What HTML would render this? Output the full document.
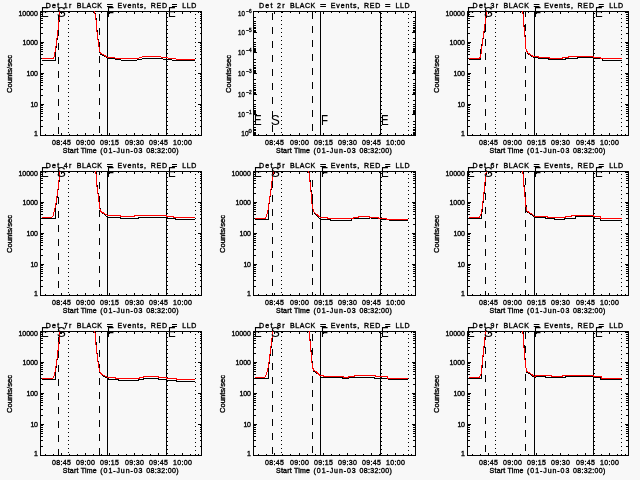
<!DOCTYPE html><html><head><meta charset="utf-8"><style>html,body{margin:0;padding:0;background:#f8f8f8;overflow:hidden}svg{display:block}.t{font-weight:normal;stroke:#000;stroke-width:0.35px}</style></head><body><svg width="640" height="480" viewBox="0 0 640 480" font-family='"Liberation Sans", sans-serif' shape-rendering="crispEdges">
<rect width="640" height="480" fill="#f8f8f8"/>
<clipPath id="c00"><rect x="40" y="11" width="162" height="125"/></clipPath>
<rect x="40" y="11" width="162" height="1" fill="#000"/>
<rect x="40" y="135" width="162" height="1" fill="#000"/>
<rect x="40" y="11" width="1" height="125" fill="#000"/>
<rect x="201" y="11" width="1" height="125" fill="#000"/>
<rect x="45" y="134" width="1" height="1" fill="#000"/>
<rect x="45" y="12" width="1" height="1" fill="#000"/>
<rect x="53" y="134" width="1" height="1" fill="#000"/>
<rect x="53" y="12" width="1" height="1" fill="#000"/>
<rect x="61" y="133" width="1" height="2" fill="#000"/>
<rect x="61" y="12" width="1" height="2" fill="#000"/>
<rect x="69" y="134" width="1" height="1" fill="#000"/>
<rect x="69" y="12" width="1" height="1" fill="#000"/>
<rect x="77" y="134" width="1" height="1" fill="#000"/>
<rect x="77" y="12" width="1" height="1" fill="#000"/>
<rect x="85" y="133" width="1" height="2" fill="#000"/>
<rect x="85" y="12" width="1" height="2" fill="#000"/>
<rect x="93" y="134" width="1" height="1" fill="#000"/>
<rect x="93" y="12" width="1" height="1" fill="#000"/>
<rect x="101" y="134" width="1" height="1" fill="#000"/>
<rect x="101" y="12" width="1" height="1" fill="#000"/>
<rect x="109" y="133" width="1" height="2" fill="#000"/>
<rect x="109" y="12" width="1" height="2" fill="#000"/>
<rect x="118" y="134" width="1" height="1" fill="#000"/>
<rect x="118" y="12" width="1" height="1" fill="#000"/>
<rect x="126" y="134" width="1" height="1" fill="#000"/>
<rect x="126" y="12" width="1" height="1" fill="#000"/>
<rect x="134" y="133" width="1" height="2" fill="#000"/>
<rect x="134" y="12" width="1" height="2" fill="#000"/>
<rect x="142" y="134" width="1" height="1" fill="#000"/>
<rect x="142" y="12" width="1" height="1" fill="#000"/>
<rect x="150" y="134" width="1" height="1" fill="#000"/>
<rect x="150" y="12" width="1" height="1" fill="#000"/>
<rect x="158" y="133" width="1" height="2" fill="#000"/>
<rect x="158" y="12" width="1" height="2" fill="#000"/>
<rect x="166" y="134" width="1" height="1" fill="#000"/>
<rect x="166" y="12" width="1" height="1" fill="#000"/>
<rect x="174" y="134" width="1" height="1" fill="#000"/>
<rect x="174" y="12" width="1" height="1" fill="#000"/>
<rect x="182" y="133" width="1" height="2" fill="#000"/>
<rect x="182" y="12" width="1" height="2" fill="#000"/>
<rect x="190" y="134" width="1" height="1" fill="#000"/>
<rect x="190" y="12" width="1" height="1" fill="#000"/>
<rect x="198" y="134" width="1" height="1" fill="#000"/>
<rect x="198" y="12" width="1" height="1" fill="#000"/>
<text class="t" x="61.5" y="145" font-size="7.0" text-anchor="middle" textLength="19" lengthAdjust="spacing" >08:45</text>
<text class="t" x="85.5" y="145" font-size="7.0" text-anchor="middle" textLength="19" lengthAdjust="spacing" >09:00</text>
<text class="t" x="109.5" y="145" font-size="7.0" text-anchor="middle" textLength="19" lengthAdjust="spacing" >09:15</text>
<text class="t" x="134.5" y="145" font-size="7.0" text-anchor="middle" textLength="19" lengthAdjust="spacing" >09:30</text>
<text class="t" x="158.5" y="145" font-size="7.0" text-anchor="middle" textLength="19" lengthAdjust="spacing" >09:45</text>
<text class="t" x="182.5" y="145" font-size="7.0" text-anchor="middle" textLength="19" lengthAdjust="spacing" >10:00</text>
<text class="t" x="62.800000000000004" y="153" font-size="7.0" text-anchor="start" textLength="33.8" lengthAdjust="spacing" >Start Time</text>
<text class="t" x="100.30000000000001" y="153" font-size="7.0" text-anchor="start" textLength="42.2" lengthAdjust="spacing" >(01-Jun-03</text>
<text class="t" x="146.3" y="153" font-size="7.0" text-anchor="start" textLength="32.3" lengthAdjust="spacing" >08:32:00)</text>
<text class="t" x="45.75" y="7.5" font-size="7.0" text-anchor="start" textLength="25.6" lengthAdjust="spacing" >Det 1r</text>
<text class="t" x="76.65" y="7.5" font-size="7.0" text-anchor="start" textLength="25.35" lengthAdjust="spacing" >BLACK</text>
<text class="t" x="106.65" y="7.5" font-size="7.0" text-anchor="start" textLength="6.2" lengthAdjust="spacingAndGlyphs" >=</text>
<text class="t" x="117.55" y="7.5" font-size="7.0" text-anchor="start" textLength="28.5" lengthAdjust="spacing" >Events,</text>
<text class="t" x="150.65" y="7.5" font-size="7.0" text-anchor="start" textLength="16.5" lengthAdjust="spacing" >RED</text>
<text class="t" x="171.75" y="7.5" font-size="7.0" text-anchor="start" textLength="5.5" lengthAdjust="spacingAndGlyphs" >=</text>
<text class="t" x="182.35000000000002" y="7.5" font-size="7.0" text-anchor="start" textLength="13.9" lengthAdjust="spacing" >LLD</text>
<text class="t" x="0" y="0" font-size="7.0" text-anchor="middle" textLength="38" lengthAdjust="spacingAndGlyphs" transform="translate(11.8,74.0) rotate(-90)">Counts/sec</text>
<text class="t" x="37.9" y="136" font-size="7.0" text-anchor="end" textLength="3.4" lengthAdjust="spacing" >1</text>
<rect x="41" y="126" width="2" height="1" fill="#000"/>
<rect x="200" y="126" width="1" height="1" fill="#000"/>
<rect x="41" y="120" width="2" height="1" fill="#000"/>
<rect x="200" y="120" width="1" height="1" fill="#000"/>
<rect x="41" y="116" width="2" height="1" fill="#000"/>
<rect x="200" y="116" width="1" height="1" fill="#000"/>
<rect x="41" y="113" width="2" height="1" fill="#000"/>
<rect x="200" y="113" width="1" height="1" fill="#000"/>
<rect x="41" y="111" width="2" height="1" fill="#000"/>
<rect x="200" y="111" width="1" height="1" fill="#000"/>
<rect x="41" y="109" width="2" height="1" fill="#000"/>
<rect x="200" y="109" width="1" height="1" fill="#000"/>
<rect x="41" y="107" width="2" height="1" fill="#000"/>
<rect x="200" y="107" width="1" height="1" fill="#000"/>
<rect x="41" y="105" width="2" height="1" fill="#000"/>
<rect x="200" y="105" width="1" height="1" fill="#000"/>
<text class="t" x="37.9" y="107" font-size="7.0" text-anchor="end" textLength="7.4" lengthAdjust="spacing" >10</text>
<rect x="41" y="104" width="3" height="1" fill="#000"/>
<rect x="198" y="104" width="3" height="1" fill="#000"/>
<rect x="41" y="95" width="2" height="1" fill="#000"/>
<rect x="200" y="95" width="1" height="1" fill="#000"/>
<rect x="41" y="89" width="2" height="1" fill="#000"/>
<rect x="200" y="89" width="1" height="1" fill="#000"/>
<rect x="41" y="85" width="2" height="1" fill="#000"/>
<rect x="200" y="85" width="1" height="1" fill="#000"/>
<rect x="41" y="82" width="2" height="1" fill="#000"/>
<rect x="200" y="82" width="1" height="1" fill="#000"/>
<rect x="41" y="80" width="2" height="1" fill="#000"/>
<rect x="200" y="80" width="1" height="1" fill="#000"/>
<rect x="41" y="78" width="2" height="1" fill="#000"/>
<rect x="200" y="78" width="1" height="1" fill="#000"/>
<rect x="41" y="76" width="2" height="1" fill="#000"/>
<rect x="200" y="76" width="1" height="1" fill="#000"/>
<rect x="41" y="74" width="2" height="1" fill="#000"/>
<rect x="200" y="74" width="1" height="1" fill="#000"/>
<text class="t" x="37.9" y="76" font-size="7.0" text-anchor="end" textLength="11.4" lengthAdjust="spacing" >100</text>
<rect x="41" y="73" width="3" height="1" fill="#000"/>
<rect x="198" y="73" width="3" height="1" fill="#000"/>
<rect x="41" y="64" width="2" height="1" fill="#000"/>
<rect x="200" y="64" width="1" height="1" fill="#000"/>
<rect x="41" y="58" width="2" height="1" fill="#000"/>
<rect x="200" y="58" width="1" height="1" fill="#000"/>
<rect x="41" y="54" width="2" height="1" fill="#000"/>
<rect x="200" y="54" width="1" height="1" fill="#000"/>
<rect x="41" y="51" width="2" height="1" fill="#000"/>
<rect x="200" y="51" width="1" height="1" fill="#000"/>
<rect x="41" y="49" width="2" height="1" fill="#000"/>
<rect x="200" y="49" width="1" height="1" fill="#000"/>
<rect x="41" y="47" width="2" height="1" fill="#000"/>
<rect x="200" y="47" width="1" height="1" fill="#000"/>
<rect x="41" y="45" width="2" height="1" fill="#000"/>
<rect x="200" y="45" width="1" height="1" fill="#000"/>
<rect x="41" y="43" width="2" height="1" fill="#000"/>
<rect x="200" y="43" width="1" height="1" fill="#000"/>
<text class="t" x="37.9" y="45" font-size="7.0" text-anchor="end" textLength="15.4" lengthAdjust="spacing" >1000</text>
<rect x="41" y="42" width="3" height="1" fill="#000"/>
<rect x="198" y="42" width="3" height="1" fill="#000"/>
<rect x="41" y="33" width="2" height="1" fill="#000"/>
<rect x="200" y="33" width="1" height="1" fill="#000"/>
<rect x="41" y="27" width="2" height="1" fill="#000"/>
<rect x="200" y="27" width="1" height="1" fill="#000"/>
<rect x="41" y="23" width="2" height="1" fill="#000"/>
<rect x="200" y="23" width="1" height="1" fill="#000"/>
<rect x="41" y="20" width="2" height="1" fill="#000"/>
<rect x="200" y="20" width="1" height="1" fill="#000"/>
<rect x="41" y="18" width="2" height="1" fill="#000"/>
<rect x="200" y="18" width="1" height="1" fill="#000"/>
<rect x="41" y="16" width="2" height="1" fill="#000"/>
<rect x="200" y="16" width="1" height="1" fill="#000"/>
<rect x="41" y="14" width="2" height="1" fill="#000"/>
<rect x="200" y="14" width="1" height="1" fill="#000"/>
<rect x="41" y="12" width="2" height="1" fill="#000"/>
<rect x="200" y="12" width="1" height="1" fill="#000"/>
<text class="t" x="37.9" y="16" font-size="7.0" text-anchor="end" textLength="19.4" lengthAdjust="spacing" >10000</text>
<path d="M58 15h1v7h-1zM58 29h1v7h-1zM58 43h1v7h-1zM58 57h1v7h-1zM58 71h1v7h-1zM58 85h1v7h-1zM58 99h1v7h-1zM58 113h1v7h-1zM58 127h1v7h-1zM68 12h1v1h-1zM68 16h1v1h-1zM68 20h1v1h-1zM68 24h1v1h-1zM68 28h1v1h-1zM68 32h1v1h-1zM68 36h1v1h-1zM68 40h1v1h-1zM68 44h1v1h-1zM68 48h1v1h-1zM68 52h1v1h-1zM68 56h1v1h-1zM68 60h1v1h-1zM68 64h1v1h-1zM68 68h1v1h-1zM68 72h1v1h-1zM68 76h1v1h-1zM68 80h1v1h-1zM68 84h1v1h-1zM68 88h1v1h-1zM68 92h1v1h-1zM68 96h1v1h-1zM68 100h1v1h-1zM68 104h1v1h-1zM68 108h1v1h-1zM68 112h1v1h-1zM68 116h1v1h-1zM68 120h1v1h-1zM68 124h1v1h-1zM68 128h1v1h-1zM68 132h1v1h-1zM99 14h1v7h-1zM99 28h1v7h-1zM99 42h1v7h-1zM99 56h1v7h-1zM99 70h1v7h-1zM99 84h1v7h-1zM99 98h1v7h-1zM99 112h1v7h-1zM99 126h1v7h-1zM107 12h1v123h-1zM166 12h1v123h-1zM167 13h1v1h-1zM167 17h1v1h-1zM167 21h1v1h-1zM167 25h1v1h-1zM167 29h1v1h-1zM167 33h1v1h-1zM167 37h1v1h-1zM167 41h1v1h-1zM167 45h1v1h-1zM167 49h1v1h-1zM167 53h1v1h-1zM167 57h1v1h-1zM167 61h1v1h-1zM167 65h1v1h-1zM167 69h1v1h-1zM167 73h1v1h-1zM167 77h1v1h-1zM167 81h1v1h-1zM167 85h1v1h-1zM167 89h1v1h-1zM167 93h1v1h-1zM167 97h1v1h-1zM167 101h1v1h-1zM167 105h1v1h-1zM167 109h1v1h-1zM167 113h1v1h-1zM167 117h1v1h-1zM167 121h1v1h-1zM167 125h1v1h-1zM167 129h1v1h-1zM167 133h1v1h-1zM195 14h1v1h-1zM195 18h1v1h-1zM195 22h1v1h-1zM195 26h1v1h-1zM195 30h1v1h-1zM195 34h1v1h-1zM195 38h1v1h-1zM195 42h1v1h-1zM195 46h1v1h-1zM195 50h1v1h-1zM195 54h1v1h-1zM195 58h1v1h-1zM195 62h1v1h-1zM195 66h1v1h-1zM195 70h1v1h-1zM195 74h1v1h-1zM195 78h1v1h-1zM195 82h1v1h-1zM195 86h1v1h-1zM195 90h1v1h-1zM195 94h1v1h-1zM195 98h1v1h-1zM195 102h1v1h-1zM195 106h1v1h-1zM195 110h1v1h-1zM195 114h1v1h-1zM195 118h1v1h-1zM195 122h1v1h-1zM195 126h1v1h-1zM195 130h1v1h-1zM195 134h1v1h-1z" fill="#000"/>
<g clip-path="url(#c00)">
<polyline points="41.50,60.50 54.80,60.50 55.30,60.50 55.30,52.50 56.60,43.50 58.40,28.30 60.10,12.00 60.99,3.50" fill="none" stroke="#000" stroke-width="1"/>
<polyline points="93.42,3.50 94.80,11.50 96.30,20.20 97.45,35.30 98.60,42.30 99.80,52.70 100.95,54.40 103.30,55.60 106.20,57.30 107.50,58.50 114.50,58.50 115.50,59.50 120.50,59.50 121.50,60.50 136.50,60.50 137.50,59.50 141.50,59.50 142.50,58.50 162.50,58.50 163.50,59.50 171.50,59.50 172.50,60.50 194.50,60.50" fill="none" stroke="#000" stroke-width="1"/>
<polyline points="41.50,58.50 53.50,58.50 54.70,54.00 56.40,43.50 58.20,28.30 59.90,12.00 60.79,3.50" fill="none" stroke="#f00" stroke-width="1"/>
<polyline points="93.22,3.50 94.60,11.50 96.10,20.20 97.25,35.30 98.40,42.30 99.60,51.70 100.75,53.40 103.10,54.60 106.00,56.30 107.50,57.50 114.50,57.50 115.50,58.50 138.50,58.50 139.50,57.50 141.50,57.50 142.50,56.50 160.50,56.50 161.50,57.50 167.50,57.50 168.50,58.50 175.50,58.50 176.50,59.50 194.50,59.50" fill="none" stroke="#f00" stroke-width="1"/>
</g>
<text transform="translate(42,17) scale(0.8,1)" x="-1.3" font-size="14.4">E</text>
<text transform="translate(58,17) scale(0.95,1)" x="-1.3" font-size="14.4">S</text>
<text transform="translate(108,17) scale(0.8,1)" x="-1.3" font-size="14.4">F</text>
<text transform="translate(169,17) scale(0.8,1)" x="-1.3" font-size="14.4">E</text>
<clipPath id="c10"><rect x="253" y="11" width="163" height="125"/></clipPath>
<rect x="253" y="11" width="163" height="1" fill="#000"/>
<rect x="253" y="135" width="163" height="1" fill="#000"/>
<rect x="253" y="11" width="1" height="125" fill="#000"/>
<rect x="415" y="11" width="1" height="125" fill="#000"/>
<rect x="258" y="134" width="1" height="1" fill="#000"/>
<rect x="258" y="12" width="1" height="1" fill="#000"/>
<rect x="266" y="134" width="1" height="1" fill="#000"/>
<rect x="266" y="12" width="1" height="1" fill="#000"/>
<rect x="274" y="133" width="1" height="2" fill="#000"/>
<rect x="274" y="12" width="1" height="2" fill="#000"/>
<rect x="282" y="134" width="1" height="1" fill="#000"/>
<rect x="282" y="12" width="1" height="1" fill="#000"/>
<rect x="290" y="134" width="1" height="1" fill="#000"/>
<rect x="290" y="12" width="1" height="1" fill="#000"/>
<rect x="299" y="133" width="1" height="2" fill="#000"/>
<rect x="299" y="12" width="1" height="2" fill="#000"/>
<rect x="307" y="134" width="1" height="1" fill="#000"/>
<rect x="307" y="12" width="1" height="1" fill="#000"/>
<rect x="315" y="134" width="1" height="1" fill="#000"/>
<rect x="315" y="12" width="1" height="1" fill="#000"/>
<rect x="323" y="133" width="1" height="2" fill="#000"/>
<rect x="323" y="12" width="1" height="2" fill="#000"/>
<rect x="331" y="134" width="1" height="1" fill="#000"/>
<rect x="331" y="12" width="1" height="1" fill="#000"/>
<rect x="339" y="134" width="1" height="1" fill="#000"/>
<rect x="339" y="12" width="1" height="1" fill="#000"/>
<rect x="347" y="133" width="1" height="2" fill="#000"/>
<rect x="347" y="12" width="1" height="2" fill="#000"/>
<rect x="355" y="134" width="1" height="1" fill="#000"/>
<rect x="355" y="12" width="1" height="1" fill="#000"/>
<rect x="363" y="134" width="1" height="1" fill="#000"/>
<rect x="363" y="12" width="1" height="1" fill="#000"/>
<rect x="371" y="133" width="1" height="2" fill="#000"/>
<rect x="371" y="12" width="1" height="2" fill="#000"/>
<rect x="379" y="134" width="1" height="1" fill="#000"/>
<rect x="379" y="12" width="1" height="1" fill="#000"/>
<rect x="387" y="134" width="1" height="1" fill="#000"/>
<rect x="387" y="12" width="1" height="1" fill="#000"/>
<rect x="395" y="133" width="1" height="2" fill="#000"/>
<rect x="395" y="12" width="1" height="2" fill="#000"/>
<rect x="403" y="134" width="1" height="1" fill="#000"/>
<rect x="403" y="12" width="1" height="1" fill="#000"/>
<rect x="411" y="134" width="1" height="1" fill="#000"/>
<rect x="411" y="12" width="1" height="1" fill="#000"/>
<text class="t" x="274.5" y="145" font-size="7.0" text-anchor="middle" textLength="19" lengthAdjust="spacing" >08:45</text>
<text class="t" x="299.5" y="145" font-size="7.0" text-anchor="middle" textLength="19" lengthAdjust="spacing" >09:00</text>
<text class="t" x="323.5" y="145" font-size="7.0" text-anchor="middle" textLength="19" lengthAdjust="spacing" >09:15</text>
<text class="t" x="347.5" y="145" font-size="7.0" text-anchor="middle" textLength="19" lengthAdjust="spacing" >09:30</text>
<text class="t" x="371.5" y="145" font-size="7.0" text-anchor="middle" textLength="19" lengthAdjust="spacing" >09:45</text>
<text class="t" x="395.5" y="145" font-size="7.0" text-anchor="middle" textLength="19" lengthAdjust="spacing" >10:00</text>
<text class="t" x="276.05" y="153" font-size="7.0" text-anchor="start" textLength="33.8" lengthAdjust="spacing" >Start Time</text>
<text class="t" x="313.55" y="153" font-size="7.0" text-anchor="start" textLength="42.2" lengthAdjust="spacing" >(01-Jun-03</text>
<text class="t" x="359.54999999999995" y="153" font-size="7.0" text-anchor="start" textLength="32.3" lengthAdjust="spacing" >08:32:00)</text>
<text class="t" x="259.0" y="7.5" font-size="7.0" text-anchor="start" textLength="25.6" lengthAdjust="spacing" >Det 2r</text>
<text class="t" x="289.9" y="7.5" font-size="7.0" text-anchor="start" textLength="25.35" lengthAdjust="spacing" >BLACK</text>
<text class="t" x="319.9" y="7.5" font-size="7.0" text-anchor="start" textLength="6.2" lengthAdjust="spacingAndGlyphs" >=</text>
<text class="t" x="330.79999999999995" y="7.5" font-size="7.0" text-anchor="start" textLength="28.5" lengthAdjust="spacing" >Events,</text>
<text class="t" x="363.9" y="7.5" font-size="7.0" text-anchor="start" textLength="16.5" lengthAdjust="spacing" >RED</text>
<text class="t" x="385.0" y="7.5" font-size="7.0" text-anchor="start" textLength="5.5" lengthAdjust="spacingAndGlyphs" >=</text>
<text class="t" x="395.6" y="7.5" font-size="7.0" text-anchor="start" textLength="13.9" lengthAdjust="spacing" >LLD</text>
<text class="t" x="0" y="0" font-size="7.0" text-anchor="middle" textLength="38" lengthAdjust="spacingAndGlyphs" transform="translate(231.1,74.0) rotate(-90)">Counts/sec</text>
<text class="t" x="244.9" y="16" font-size="7.0" text-anchor="end" textLength="6.8" lengthAdjust="spacingAndGlyphs" >10</text>
<text class="t" x="246.2" y="13" font-size="5" textLength="5.4" lengthAdjust="spacingAndGlyphs">&#8722;6</text>
<rect x="254" y="17" width="2" height="1" fill="#000"/>
<rect x="413" y="17" width="2" height="1" fill="#000"/>
<rect x="254" y="21" width="2" height="1" fill="#000"/>
<rect x="413" y="21" width="2" height="1" fill="#000"/>
<rect x="254" y="23" width="2" height="1" fill="#000"/>
<rect x="413" y="23" width="2" height="1" fill="#000"/>
<rect x="254" y="25" width="2" height="1" fill="#000"/>
<rect x="413" y="25" width="2" height="1" fill="#000"/>
<rect x="254" y="27" width="2" height="1" fill="#000"/>
<rect x="413" y="27" width="2" height="1" fill="#000"/>
<rect x="254" y="28" width="2" height="1" fill="#000"/>
<rect x="413" y="28" width="2" height="1" fill="#000"/>
<rect x="254" y="30" width="2" height="1" fill="#000"/>
<rect x="413" y="30" width="2" height="1" fill="#000"/>
<rect x="254" y="31" width="2" height="1" fill="#000"/>
<rect x="413" y="31" width="2" height="1" fill="#000"/>
<text class="t" x="244.9" y="35" font-size="7.0" text-anchor="end" textLength="6.8" lengthAdjust="spacingAndGlyphs" >10</text>
<text class="t" x="246.2" y="32" font-size="5" textLength="5.4" lengthAdjust="spacingAndGlyphs">&#8722;5</text>
<rect x="254" y="32" width="3" height="1" fill="#000"/>
<rect x="412" y="32" width="3" height="1" fill="#000"/>
<rect x="254" y="38" width="2" height="1" fill="#000"/>
<rect x="413" y="38" width="2" height="1" fill="#000"/>
<rect x="254" y="42" width="2" height="1" fill="#000"/>
<rect x="413" y="42" width="2" height="1" fill="#000"/>
<rect x="254" y="44" width="2" height="1" fill="#000"/>
<rect x="413" y="44" width="2" height="1" fill="#000"/>
<rect x="254" y="46" width="2" height="1" fill="#000"/>
<rect x="413" y="46" width="2" height="1" fill="#000"/>
<rect x="254" y="48" width="2" height="1" fill="#000"/>
<rect x="413" y="48" width="2" height="1" fill="#000"/>
<rect x="254" y="49" width="2" height="1" fill="#000"/>
<rect x="413" y="49" width="2" height="1" fill="#000"/>
<rect x="254" y="50" width="2" height="1" fill="#000"/>
<rect x="413" y="50" width="2" height="1" fill="#000"/>
<rect x="254" y="51" width="2" height="1" fill="#000"/>
<rect x="413" y="51" width="2" height="1" fill="#000"/>
<text class="t" x="244.9" y="55" font-size="7.0" text-anchor="end" textLength="6.8" lengthAdjust="spacingAndGlyphs" >10</text>
<text class="t" x="246.2" y="52" font-size="5" textLength="5.4" lengthAdjust="spacingAndGlyphs">&#8722;4</text>
<rect x="254" y="52" width="3" height="1" fill="#000"/>
<rect x="412" y="52" width="3" height="1" fill="#000"/>
<rect x="254" y="59" width="2" height="1" fill="#000"/>
<rect x="413" y="59" width="2" height="1" fill="#000"/>
<rect x="254" y="62" width="2" height="1" fill="#000"/>
<rect x="413" y="62" width="2" height="1" fill="#000"/>
<rect x="254" y="65" width="2" height="1" fill="#000"/>
<rect x="413" y="65" width="2" height="1" fill="#000"/>
<rect x="254" y="67" width="2" height="1" fill="#000"/>
<rect x="413" y="67" width="2" height="1" fill="#000"/>
<rect x="254" y="68" width="2" height="1" fill="#000"/>
<rect x="413" y="68" width="2" height="1" fill="#000"/>
<rect x="254" y="70" width="2" height="1" fill="#000"/>
<rect x="413" y="70" width="2" height="1" fill="#000"/>
<rect x="254" y="71" width="2" height="1" fill="#000"/>
<rect x="413" y="71" width="2" height="1" fill="#000"/>
<rect x="254" y="72" width="2" height="1" fill="#000"/>
<rect x="413" y="72" width="2" height="1" fill="#000"/>
<text class="t" x="244.9" y="76" font-size="7.0" text-anchor="end" textLength="6.8" lengthAdjust="spacingAndGlyphs" >10</text>
<text class="t" x="246.2" y="73" font-size="5" textLength="5.4" lengthAdjust="spacingAndGlyphs">&#8722;3</text>
<rect x="254" y="73" width="3" height="1" fill="#000"/>
<rect x="412" y="73" width="3" height="1" fill="#000"/>
<rect x="254" y="79" width="2" height="1" fill="#000"/>
<rect x="413" y="79" width="2" height="1" fill="#000"/>
<rect x="254" y="83" width="2" height="1" fill="#000"/>
<rect x="413" y="83" width="2" height="1" fill="#000"/>
<rect x="254" y="85" width="2" height="1" fill="#000"/>
<rect x="413" y="85" width="2" height="1" fill="#000"/>
<rect x="254" y="87" width="2" height="1" fill="#000"/>
<rect x="413" y="87" width="2" height="1" fill="#000"/>
<rect x="254" y="89" width="2" height="1" fill="#000"/>
<rect x="413" y="89" width="2" height="1" fill="#000"/>
<rect x="254" y="90" width="2" height="1" fill="#000"/>
<rect x="413" y="90" width="2" height="1" fill="#000"/>
<rect x="254" y="92" width="2" height="1" fill="#000"/>
<rect x="413" y="92" width="2" height="1" fill="#000"/>
<rect x="254" y="93" width="2" height="1" fill="#000"/>
<rect x="413" y="93" width="2" height="1" fill="#000"/>
<text class="t" x="244.9" y="97" font-size="7.0" text-anchor="end" textLength="6.8" lengthAdjust="spacingAndGlyphs" >10</text>
<text class="t" x="246.2" y="94" font-size="5" textLength="5.4" lengthAdjust="spacingAndGlyphs">&#8722;2</text>
<rect x="254" y="94" width="3" height="1" fill="#000"/>
<rect x="412" y="94" width="3" height="1" fill="#000"/>
<rect x="254" y="100" width="2" height="1" fill="#000"/>
<rect x="413" y="100" width="2" height="1" fill="#000"/>
<rect x="254" y="104" width="2" height="1" fill="#000"/>
<rect x="413" y="104" width="2" height="1" fill="#000"/>
<rect x="254" y="106" width="2" height="1" fill="#000"/>
<rect x="413" y="106" width="2" height="1" fill="#000"/>
<rect x="254" y="108" width="2" height="1" fill="#000"/>
<rect x="413" y="108" width="2" height="1" fill="#000"/>
<rect x="254" y="110" width="2" height="1" fill="#000"/>
<rect x="413" y="110" width="2" height="1" fill="#000"/>
<rect x="254" y="111" width="2" height="1" fill="#000"/>
<rect x="413" y="111" width="2" height="1" fill="#000"/>
<rect x="254" y="112" width="2" height="1" fill="#000"/>
<rect x="413" y="112" width="2" height="1" fill="#000"/>
<rect x="254" y="113" width="2" height="1" fill="#000"/>
<rect x="413" y="113" width="2" height="1" fill="#000"/>
<text class="t" x="244.9" y="117" font-size="7.0" text-anchor="end" textLength="6.8" lengthAdjust="spacingAndGlyphs" >10</text>
<text class="t" x="246.2" y="114" font-size="5" textLength="5.4" lengthAdjust="spacingAndGlyphs">&#8722;1</text>
<rect x="254" y="114" width="3" height="1" fill="#000"/>
<rect x="412" y="114" width="3" height="1" fill="#000"/>
<rect x="254" y="121" width="2" height="1" fill="#000"/>
<rect x="413" y="121" width="2" height="1" fill="#000"/>
<rect x="254" y="124" width="2" height="1" fill="#000"/>
<rect x="413" y="124" width="2" height="1" fill="#000"/>
<rect x="254" y="127" width="2" height="1" fill="#000"/>
<rect x="413" y="127" width="2" height="1" fill="#000"/>
<rect x="254" y="129" width="2" height="1" fill="#000"/>
<rect x="413" y="129" width="2" height="1" fill="#000"/>
<rect x="254" y="130" width="2" height="1" fill="#000"/>
<rect x="413" y="130" width="2" height="1" fill="#000"/>
<rect x="254" y="132" width="2" height="1" fill="#000"/>
<rect x="413" y="132" width="2" height="1" fill="#000"/>
<rect x="254" y="133" width="2" height="1" fill="#000"/>
<rect x="413" y="133" width="2" height="1" fill="#000"/>
<rect x="254" y="134" width="2" height="1" fill="#000"/>
<rect x="413" y="134" width="2" height="1" fill="#000"/>
<text class="t" x="248.5" y="136" font-size="7.0" text-anchor="end" textLength="7.2" lengthAdjust="spacingAndGlyphs" >10</text>
<text class="t" x="248.4" y="133" font-size="5" textLength="3.2" lengthAdjust="spacingAndGlyphs">0</text>
<path d="M272 13h1v7h-1zM272 27h1v7h-1zM272 41h1v7h-1zM272 55h1v7h-1zM272 69h1v7h-1zM272 83h1v7h-1zM272 97h1v7h-1zM272 111h1v7h-1zM272 125h1v7h-1zM281 12h1v1h-1zM281 16h1v1h-1zM281 20h1v1h-1zM281 24h1v1h-1zM281 28h1v1h-1zM281 32h1v1h-1zM281 36h1v1h-1zM281 40h1v1h-1zM281 44h1v1h-1zM281 48h1v1h-1zM281 52h1v1h-1zM281 56h1v1h-1zM281 60h1v1h-1zM281 64h1v1h-1zM281 68h1v1h-1zM281 72h1v1h-1zM281 76h1v1h-1zM281 80h1v1h-1zM281 84h1v1h-1zM281 88h1v1h-1zM281 92h1v1h-1zM281 96h1v1h-1zM281 100h1v1h-1zM281 104h1v1h-1zM281 108h1v1h-1zM281 112h1v1h-1zM281 116h1v1h-1zM281 120h1v1h-1zM281 124h1v1h-1zM281 128h1v1h-1zM281 132h1v1h-1zM312 12h1v7h-1zM312 26h1v7h-1zM312 40h1v7h-1zM312 54h1v7h-1zM312 68h1v7h-1zM312 82h1v7h-1zM312 96h1v7h-1zM312 110h1v7h-1zM312 124h1v7h-1zM320 12h1v123h-1zM380 12h1v123h-1zM381 13h1v1h-1zM381 17h1v1h-1zM381 21h1v1h-1zM381 25h1v1h-1zM381 29h1v1h-1zM381 33h1v1h-1zM381 37h1v1h-1zM381 41h1v1h-1zM381 45h1v1h-1zM381 49h1v1h-1zM381 53h1v1h-1zM381 57h1v1h-1zM381 61h1v1h-1zM381 65h1v1h-1zM381 69h1v1h-1zM381 73h1v1h-1zM381 77h1v1h-1zM381 81h1v1h-1zM381 85h1v1h-1zM381 89h1v1h-1zM381 93h1v1h-1zM381 97h1v1h-1zM381 101h1v1h-1zM381 105h1v1h-1zM381 109h1v1h-1zM381 113h1v1h-1zM381 117h1v1h-1zM381 121h1v1h-1zM381 125h1v1h-1zM381 129h1v1h-1zM381 133h1v1h-1zM408 14h1v1h-1zM408 18h1v1h-1zM408 22h1v1h-1zM408 26h1v1h-1zM408 30h1v1h-1zM408 34h1v1h-1zM408 38h1v1h-1zM408 42h1v1h-1zM408 46h1v1h-1zM408 50h1v1h-1zM408 54h1v1h-1zM408 58h1v1h-1zM408 62h1v1h-1zM408 66h1v1h-1zM408 70h1v1h-1zM408 74h1v1h-1zM408 78h1v1h-1zM408 82h1v1h-1zM408 86h1v1h-1zM408 90h1v1h-1zM408 94h1v1h-1zM408 98h1v1h-1zM408 102h1v1h-1zM408 106h1v1h-1zM408 110h1v1h-1zM408 114h1v1h-1zM408 118h1v1h-1zM408 122h1v1h-1zM408 126h1v1h-1zM408 130h1v1h-1zM408 134h1v1h-1z" fill="#000"/>
<text transform="translate(255,125) scale(0.8,1)" x="-1.3" font-size="14.4">E</text>
<text transform="translate(272,125) scale(0.95,1)" x="-1.3" font-size="14.4">S</text>
<text transform="translate(322,125) scale(0.8,1)" x="-1.3" font-size="14.4">F</text>
<text transform="translate(382,125) scale(0.8,1)" x="-1.3" font-size="14.4">E</text>
<clipPath id="c20"><rect x="467" y="11" width="162" height="125"/></clipPath>
<rect x="467" y="11" width="162" height="1" fill="#000"/>
<rect x="467" y="135" width="162" height="1" fill="#000"/>
<rect x="467" y="11" width="1" height="125" fill="#000"/>
<rect x="628" y="11" width="1" height="125" fill="#000"/>
<rect x="472" y="134" width="1" height="1" fill="#000"/>
<rect x="472" y="12" width="1" height="1" fill="#000"/>
<rect x="480" y="134" width="1" height="1" fill="#000"/>
<rect x="480" y="12" width="1" height="1" fill="#000"/>
<rect x="488" y="133" width="1" height="2" fill="#000"/>
<rect x="488" y="12" width="1" height="2" fill="#000"/>
<rect x="496" y="134" width="1" height="1" fill="#000"/>
<rect x="496" y="12" width="1" height="1" fill="#000"/>
<rect x="504" y="134" width="1" height="1" fill="#000"/>
<rect x="504" y="12" width="1" height="1" fill="#000"/>
<rect x="512" y="133" width="1" height="2" fill="#000"/>
<rect x="512" y="12" width="1" height="2" fill="#000"/>
<rect x="520" y="134" width="1" height="1" fill="#000"/>
<rect x="520" y="12" width="1" height="1" fill="#000"/>
<rect x="528" y="134" width="1" height="1" fill="#000"/>
<rect x="528" y="12" width="1" height="1" fill="#000"/>
<rect x="536" y="133" width="1" height="2" fill="#000"/>
<rect x="536" y="12" width="1" height="2" fill="#000"/>
<rect x="544" y="134" width="1" height="1" fill="#000"/>
<rect x="544" y="12" width="1" height="1" fill="#000"/>
<rect x="552" y="134" width="1" height="1" fill="#000"/>
<rect x="552" y="12" width="1" height="1" fill="#000"/>
<rect x="560" y="133" width="1" height="2" fill="#000"/>
<rect x="560" y="12" width="1" height="2" fill="#000"/>
<rect x="568" y="134" width="1" height="1" fill="#000"/>
<rect x="568" y="12" width="1" height="1" fill="#000"/>
<rect x="577" y="134" width="1" height="1" fill="#000"/>
<rect x="577" y="12" width="1" height="1" fill="#000"/>
<rect x="585" y="133" width="1" height="2" fill="#000"/>
<rect x="585" y="12" width="1" height="2" fill="#000"/>
<rect x="593" y="134" width="1" height="1" fill="#000"/>
<rect x="593" y="12" width="1" height="1" fill="#000"/>
<rect x="601" y="134" width="1" height="1" fill="#000"/>
<rect x="601" y="12" width="1" height="1" fill="#000"/>
<rect x="609" y="133" width="1" height="2" fill="#000"/>
<rect x="609" y="12" width="1" height="2" fill="#000"/>
<rect x="617" y="134" width="1" height="1" fill="#000"/>
<rect x="617" y="12" width="1" height="1" fill="#000"/>
<rect x="625" y="134" width="1" height="1" fill="#000"/>
<rect x="625" y="12" width="1" height="1" fill="#000"/>
<text class="t" x="488.5" y="145" font-size="7.0" text-anchor="middle" textLength="19" lengthAdjust="spacing" >08:45</text>
<text class="t" x="512.5" y="145" font-size="7.0" text-anchor="middle" textLength="19" lengthAdjust="spacing" >09:00</text>
<text class="t" x="536.5" y="145" font-size="7.0" text-anchor="middle" textLength="19" lengthAdjust="spacing" >09:15</text>
<text class="t" x="560.5" y="145" font-size="7.0" text-anchor="middle" textLength="19" lengthAdjust="spacing" >09:30</text>
<text class="t" x="585.5" y="145" font-size="7.0" text-anchor="middle" textLength="19" lengthAdjust="spacing" >09:45</text>
<text class="t" x="609.5" y="145" font-size="7.0" text-anchor="middle" textLength="19" lengthAdjust="spacing" >10:00</text>
<text class="t" x="489.6" y="153" font-size="7.0" text-anchor="start" textLength="33.8" lengthAdjust="spacing" >Start Time</text>
<text class="t" x="527.1" y="153" font-size="7.0" text-anchor="start" textLength="42.2" lengthAdjust="spacing" >(01-Jun-03</text>
<text class="t" x="573.1" y="153" font-size="7.0" text-anchor="start" textLength="32.3" lengthAdjust="spacing" >08:32:00)</text>
<text class="t" x="472.55" y="7.5" font-size="7.0" text-anchor="start" textLength="25.6" lengthAdjust="spacing" >Det 3r</text>
<text class="t" x="503.45" y="7.5" font-size="7.0" text-anchor="start" textLength="25.35" lengthAdjust="spacing" >BLACK</text>
<text class="t" x="533.45" y="7.5" font-size="7.0" text-anchor="start" textLength="6.2" lengthAdjust="spacingAndGlyphs" >=</text>
<text class="t" x="544.35" y="7.5" font-size="7.0" text-anchor="start" textLength="28.5" lengthAdjust="spacing" >Events,</text>
<text class="t" x="577.45" y="7.5" font-size="7.0" text-anchor="start" textLength="16.5" lengthAdjust="spacing" >RED</text>
<text class="t" x="598.55" y="7.5" font-size="7.0" text-anchor="start" textLength="5.5" lengthAdjust="spacingAndGlyphs" >=</text>
<text class="t" x="609.15" y="7.5" font-size="7.0" text-anchor="start" textLength="13.9" lengthAdjust="spacing" >LLD</text>
<text class="t" x="0" y="0" font-size="7.0" text-anchor="middle" textLength="38" lengthAdjust="spacingAndGlyphs" transform="translate(438.8,74.0) rotate(-90)">Counts/sec</text>
<text class="t" x="464.9" y="136" font-size="7.0" text-anchor="end" textLength="3.4" lengthAdjust="spacing" >1</text>
<rect x="468" y="126" width="2" height="1" fill="#000"/>
<rect x="626" y="126" width="2" height="1" fill="#000"/>
<rect x="468" y="120" width="2" height="1" fill="#000"/>
<rect x="626" y="120" width="2" height="1" fill="#000"/>
<rect x="468" y="116" width="2" height="1" fill="#000"/>
<rect x="626" y="116" width="2" height="1" fill="#000"/>
<rect x="468" y="113" width="2" height="1" fill="#000"/>
<rect x="626" y="113" width="2" height="1" fill="#000"/>
<rect x="468" y="111" width="2" height="1" fill="#000"/>
<rect x="626" y="111" width="2" height="1" fill="#000"/>
<rect x="468" y="109" width="2" height="1" fill="#000"/>
<rect x="626" y="109" width="2" height="1" fill="#000"/>
<rect x="468" y="107" width="2" height="1" fill="#000"/>
<rect x="626" y="107" width="2" height="1" fill="#000"/>
<rect x="468" y="105" width="2" height="1" fill="#000"/>
<rect x="626" y="105" width="2" height="1" fill="#000"/>
<text class="t" x="464.9" y="107" font-size="7.0" text-anchor="end" textLength="7.4" lengthAdjust="spacing" >10</text>
<rect x="468" y="104" width="3" height="1" fill="#000"/>
<rect x="625" y="104" width="3" height="1" fill="#000"/>
<rect x="468" y="95" width="2" height="1" fill="#000"/>
<rect x="626" y="95" width="2" height="1" fill="#000"/>
<rect x="468" y="89" width="2" height="1" fill="#000"/>
<rect x="626" y="89" width="2" height="1" fill="#000"/>
<rect x="468" y="85" width="2" height="1" fill="#000"/>
<rect x="626" y="85" width="2" height="1" fill="#000"/>
<rect x="468" y="82" width="2" height="1" fill="#000"/>
<rect x="626" y="82" width="2" height="1" fill="#000"/>
<rect x="468" y="80" width="2" height="1" fill="#000"/>
<rect x="626" y="80" width="2" height="1" fill="#000"/>
<rect x="468" y="78" width="2" height="1" fill="#000"/>
<rect x="626" y="78" width="2" height="1" fill="#000"/>
<rect x="468" y="76" width="2" height="1" fill="#000"/>
<rect x="626" y="76" width="2" height="1" fill="#000"/>
<rect x="468" y="74" width="2" height="1" fill="#000"/>
<rect x="626" y="74" width="2" height="1" fill="#000"/>
<text class="t" x="464.9" y="76" font-size="7.0" text-anchor="end" textLength="11.4" lengthAdjust="spacing" >100</text>
<rect x="468" y="73" width="3" height="1" fill="#000"/>
<rect x="625" y="73" width="3" height="1" fill="#000"/>
<rect x="468" y="64" width="2" height="1" fill="#000"/>
<rect x="626" y="64" width="2" height="1" fill="#000"/>
<rect x="468" y="58" width="2" height="1" fill="#000"/>
<rect x="626" y="58" width="2" height="1" fill="#000"/>
<rect x="468" y="54" width="2" height="1" fill="#000"/>
<rect x="626" y="54" width="2" height="1" fill="#000"/>
<rect x="468" y="51" width="2" height="1" fill="#000"/>
<rect x="626" y="51" width="2" height="1" fill="#000"/>
<rect x="468" y="49" width="2" height="1" fill="#000"/>
<rect x="626" y="49" width="2" height="1" fill="#000"/>
<rect x="468" y="47" width="2" height="1" fill="#000"/>
<rect x="626" y="47" width="2" height="1" fill="#000"/>
<rect x="468" y="45" width="2" height="1" fill="#000"/>
<rect x="626" y="45" width="2" height="1" fill="#000"/>
<rect x="468" y="43" width="2" height="1" fill="#000"/>
<rect x="626" y="43" width="2" height="1" fill="#000"/>
<text class="t" x="464.9" y="45" font-size="7.0" text-anchor="end" textLength="15.4" lengthAdjust="spacing" >1000</text>
<rect x="468" y="42" width="3" height="1" fill="#000"/>
<rect x="625" y="42" width="3" height="1" fill="#000"/>
<rect x="468" y="33" width="2" height="1" fill="#000"/>
<rect x="626" y="33" width="2" height="1" fill="#000"/>
<rect x="468" y="27" width="2" height="1" fill="#000"/>
<rect x="626" y="27" width="2" height="1" fill="#000"/>
<rect x="468" y="23" width="2" height="1" fill="#000"/>
<rect x="626" y="23" width="2" height="1" fill="#000"/>
<rect x="468" y="20" width="2" height="1" fill="#000"/>
<rect x="626" y="20" width="2" height="1" fill="#000"/>
<rect x="468" y="18" width="2" height="1" fill="#000"/>
<rect x="626" y="18" width="2" height="1" fill="#000"/>
<rect x="468" y="16" width="2" height="1" fill="#000"/>
<rect x="626" y="16" width="2" height="1" fill="#000"/>
<rect x="468" y="14" width="2" height="1" fill="#000"/>
<rect x="626" y="14" width="2" height="1" fill="#000"/>
<rect x="468" y="12" width="2" height="1" fill="#000"/>
<rect x="626" y="12" width="2" height="1" fill="#000"/>
<text class="t" x="464.9" y="16" font-size="7.0" text-anchor="end" textLength="19.4" lengthAdjust="spacing" >10000</text>
<path d="M485 12h1v6h-1zM485 25h1v7h-1zM485 39h1v7h-1zM485 53h1v7h-1zM485 67h1v7h-1zM485 81h1v7h-1zM485 95h1v7h-1zM485 109h1v7h-1zM485 123h1v7h-1zM495 12h1v1h-1zM495 16h1v1h-1zM495 20h1v1h-1zM495 24h1v1h-1zM495 28h1v1h-1zM495 32h1v1h-1zM495 36h1v1h-1zM495 40h1v1h-1zM495 44h1v1h-1zM495 48h1v1h-1zM495 52h1v1h-1zM495 56h1v1h-1zM495 60h1v1h-1zM495 64h1v1h-1zM495 68h1v1h-1zM495 72h1v1h-1zM495 76h1v1h-1zM495 80h1v1h-1zM495 84h1v1h-1zM495 88h1v1h-1zM495 92h1v1h-1zM495 96h1v1h-1zM495 100h1v1h-1zM495 104h1v1h-1zM495 108h1v1h-1zM495 112h1v1h-1zM495 116h1v1h-1zM495 120h1v1h-1zM495 124h1v1h-1zM495 128h1v1h-1zM495 132h1v1h-1zM525 12h1v5h-1zM525 24h1v7h-1zM525 38h1v7h-1zM525 52h1v7h-1zM525 66h1v7h-1zM525 80h1v7h-1zM525 94h1v7h-1zM525 108h1v7h-1zM525 122h1v7h-1zM534 12h1v123h-1zM593 12h1v123h-1zM594 13h1v1h-1zM594 17h1v1h-1zM594 21h1v1h-1zM594 25h1v1h-1zM594 29h1v1h-1zM594 33h1v1h-1zM594 37h1v1h-1zM594 41h1v1h-1zM594 45h1v1h-1zM594 49h1v1h-1zM594 53h1v1h-1zM594 57h1v1h-1zM594 61h1v1h-1zM594 65h1v1h-1zM594 69h1v1h-1zM594 73h1v1h-1zM594 77h1v1h-1zM594 81h1v1h-1zM594 85h1v1h-1zM594 89h1v1h-1zM594 93h1v1h-1zM594 97h1v1h-1zM594 101h1v1h-1zM594 105h1v1h-1zM594 109h1v1h-1zM594 113h1v1h-1zM594 117h1v1h-1zM594 121h1v1h-1zM594 125h1v1h-1zM594 129h1v1h-1zM594 133h1v1h-1zM621 14h1v1h-1zM621 18h1v1h-1zM621 22h1v1h-1zM621 26h1v1h-1zM621 30h1v1h-1zM621 34h1v1h-1zM621 38h1v1h-1zM621 42h1v1h-1zM621 46h1v1h-1zM621 50h1v1h-1zM621 54h1v1h-1zM621 58h1v1h-1zM621 62h1v1h-1zM621 66h1v1h-1zM621 70h1v1h-1zM621 74h1v1h-1zM621 78h1v1h-1zM621 82h1v1h-1zM621 86h1v1h-1zM621 90h1v1h-1zM621 94h1v1h-1zM621 98h1v1h-1zM621 102h1v1h-1zM621 106h1v1h-1zM621 110h1v1h-1zM621 114h1v1h-1zM621 118h1v1h-1zM621 122h1v1h-1zM621 126h1v1h-1zM621 130h1v1h-1zM621 134h1v1h-1z" fill="#000"/>
<g clip-path="url(#c20)">
<polyline points="468.50,59.50 479.70,59.50 480.20,59.50 480.20,53.50 483.10,38.90 484.80,27.20 486.00,18.50 486.70,11.50 487.50,3.50" fill="none" stroke="#000" stroke-width="1"/>
<polyline points="522.39,3.50 523.00,11.50 524.10,26.00 525.30,37.70 525.90,48.30 527.60,53.40 530.60,55.70 533.50,57.50 534.50,57.50 538.50,57.50 538.50,58.50 548.50,58.50 548.50,59.50 565.50,59.50 565.50,58.50 577.50,58.50 577.50,57.50 593.50,57.50 593.50,58.50 602.50,58.50 602.50,60.50 621.50,60.50" fill="none" stroke="#000" stroke-width="1"/>
<polyline points="468.50,58.50 478.80,58.50 480.00,57.50 481.10,53.50 482.90,38.90 484.60,27.20 485.80,18.50 486.50,11.50 487.30,3.50" fill="none" stroke="#f00" stroke-width="1"/>
<polyline points="522.19,3.50 522.80,11.50 523.90,26.00 525.10,37.70 525.70,48.30 527.40,52.40 530.40,54.70 533.30,56.50 534.50,56.50 538.50,56.50 538.50,57.50 549.50,57.50 549.50,58.50 562.50,58.50 562.50,57.50 568.50,57.50 568.50,56.50 593.50,56.50 593.50,57.50 600.50,57.50 600.50,58.50 621.50,58.50" fill="none" stroke="#f00" stroke-width="1"/>
</g>
<text transform="translate(468,17) scale(0.8,1)" x="-1.3" font-size="14.4">E</text>
<text transform="translate(485,17) scale(0.95,1)" x="-1.3" font-size="14.4">S</text>
<text transform="translate(535,17) scale(0.8,1)" x="-1.3" font-size="14.4">F</text>
<text transform="translate(596,17) scale(0.8,1)" x="-1.3" font-size="14.4">E</text>
<clipPath id="c01"><rect x="40" y="171" width="162" height="125"/></clipPath>
<rect x="40" y="171" width="162" height="1" fill="#000"/>
<rect x="40" y="295" width="162" height="1" fill="#000"/>
<rect x="40" y="171" width="1" height="125" fill="#000"/>
<rect x="201" y="171" width="1" height="125" fill="#000"/>
<rect x="45" y="294" width="1" height="1" fill="#000"/>
<rect x="45" y="172" width="1" height="1" fill="#000"/>
<rect x="53" y="294" width="1" height="1" fill="#000"/>
<rect x="53" y="172" width="1" height="1" fill="#000"/>
<rect x="61" y="293" width="1" height="2" fill="#000"/>
<rect x="61" y="172" width="1" height="2" fill="#000"/>
<rect x="69" y="294" width="1" height="1" fill="#000"/>
<rect x="69" y="172" width="1" height="1" fill="#000"/>
<rect x="77" y="294" width="1" height="1" fill="#000"/>
<rect x="77" y="172" width="1" height="1" fill="#000"/>
<rect x="85" y="293" width="1" height="2" fill="#000"/>
<rect x="85" y="172" width="1" height="2" fill="#000"/>
<rect x="93" y="294" width="1" height="1" fill="#000"/>
<rect x="93" y="172" width="1" height="1" fill="#000"/>
<rect x="101" y="294" width="1" height="1" fill="#000"/>
<rect x="101" y="172" width="1" height="1" fill="#000"/>
<rect x="109" y="293" width="1" height="2" fill="#000"/>
<rect x="109" y="172" width="1" height="2" fill="#000"/>
<rect x="118" y="294" width="1" height="1" fill="#000"/>
<rect x="118" y="172" width="1" height="1" fill="#000"/>
<rect x="126" y="294" width="1" height="1" fill="#000"/>
<rect x="126" y="172" width="1" height="1" fill="#000"/>
<rect x="134" y="293" width="1" height="2" fill="#000"/>
<rect x="134" y="172" width="1" height="2" fill="#000"/>
<rect x="142" y="294" width="1" height="1" fill="#000"/>
<rect x="142" y="172" width="1" height="1" fill="#000"/>
<rect x="150" y="294" width="1" height="1" fill="#000"/>
<rect x="150" y="172" width="1" height="1" fill="#000"/>
<rect x="158" y="293" width="1" height="2" fill="#000"/>
<rect x="158" y="172" width="1" height="2" fill="#000"/>
<rect x="166" y="294" width="1" height="1" fill="#000"/>
<rect x="166" y="172" width="1" height="1" fill="#000"/>
<rect x="174" y="294" width="1" height="1" fill="#000"/>
<rect x="174" y="172" width="1" height="1" fill="#000"/>
<rect x="182" y="293" width="1" height="2" fill="#000"/>
<rect x="182" y="172" width="1" height="2" fill="#000"/>
<rect x="190" y="294" width="1" height="1" fill="#000"/>
<rect x="190" y="172" width="1" height="1" fill="#000"/>
<rect x="198" y="294" width="1" height="1" fill="#000"/>
<rect x="198" y="172" width="1" height="1" fill="#000"/>
<text class="t" x="61.5" y="305" font-size="7.0" text-anchor="middle" textLength="19" lengthAdjust="spacing" >08:45</text>
<text class="t" x="85.5" y="305" font-size="7.0" text-anchor="middle" textLength="19" lengthAdjust="spacing" >09:00</text>
<text class="t" x="109.5" y="305" font-size="7.0" text-anchor="middle" textLength="19" lengthAdjust="spacing" >09:15</text>
<text class="t" x="134.5" y="305" font-size="7.0" text-anchor="middle" textLength="19" lengthAdjust="spacing" >09:30</text>
<text class="t" x="158.5" y="305" font-size="7.0" text-anchor="middle" textLength="19" lengthAdjust="spacing" >09:45</text>
<text class="t" x="182.5" y="305" font-size="7.0" text-anchor="middle" textLength="19" lengthAdjust="spacing" >10:00</text>
<text class="t" x="62.800000000000004" y="313" font-size="7.0" text-anchor="start" textLength="33.8" lengthAdjust="spacing" >Start Time</text>
<text class="t" x="100.30000000000001" y="313" font-size="7.0" text-anchor="start" textLength="42.2" lengthAdjust="spacing" >(01-Jun-03</text>
<text class="t" x="146.3" y="313" font-size="7.0" text-anchor="start" textLength="32.3" lengthAdjust="spacing" >08:32:00)</text>
<text class="t" x="45.75" y="167.5" font-size="7.0" text-anchor="start" textLength="25.6" lengthAdjust="spacing" >Det 4r</text>
<text class="t" x="76.65" y="167.5" font-size="7.0" text-anchor="start" textLength="25.35" lengthAdjust="spacing" >BLACK</text>
<text class="t" x="106.65" y="167.5" font-size="7.0" text-anchor="start" textLength="6.2" lengthAdjust="spacingAndGlyphs" >=</text>
<text class="t" x="117.55" y="167.5" font-size="7.0" text-anchor="start" textLength="28.5" lengthAdjust="spacing" >Events,</text>
<text class="t" x="150.65" y="167.5" font-size="7.0" text-anchor="start" textLength="16.5" lengthAdjust="spacing" >RED</text>
<text class="t" x="171.75" y="167.5" font-size="7.0" text-anchor="start" textLength="5.5" lengthAdjust="spacingAndGlyphs" >=</text>
<text class="t" x="182.35000000000002" y="167.5" font-size="7.0" text-anchor="start" textLength="13.9" lengthAdjust="spacing" >LLD</text>
<text class="t" x="0" y="0" font-size="7.0" text-anchor="middle" textLength="38" lengthAdjust="spacingAndGlyphs" transform="translate(11.8,234.0) rotate(-90)">Counts/sec</text>
<text class="t" x="37.9" y="296" font-size="7.0" text-anchor="end" textLength="3.4" lengthAdjust="spacing" >1</text>
<rect x="41" y="286" width="2" height="1" fill="#000"/>
<rect x="200" y="286" width="1" height="1" fill="#000"/>
<rect x="41" y="280" width="2" height="1" fill="#000"/>
<rect x="200" y="280" width="1" height="1" fill="#000"/>
<rect x="41" y="276" width="2" height="1" fill="#000"/>
<rect x="200" y="276" width="1" height="1" fill="#000"/>
<rect x="41" y="273" width="2" height="1" fill="#000"/>
<rect x="200" y="273" width="1" height="1" fill="#000"/>
<rect x="41" y="271" width="2" height="1" fill="#000"/>
<rect x="200" y="271" width="1" height="1" fill="#000"/>
<rect x="41" y="269" width="2" height="1" fill="#000"/>
<rect x="200" y="269" width="1" height="1" fill="#000"/>
<rect x="41" y="267" width="2" height="1" fill="#000"/>
<rect x="200" y="267" width="1" height="1" fill="#000"/>
<rect x="41" y="265" width="2" height="1" fill="#000"/>
<rect x="200" y="265" width="1" height="1" fill="#000"/>
<text class="t" x="37.9" y="267" font-size="7.0" text-anchor="end" textLength="7.4" lengthAdjust="spacing" >10</text>
<rect x="41" y="264" width="3" height="1" fill="#000"/>
<rect x="198" y="264" width="3" height="1" fill="#000"/>
<rect x="41" y="255" width="2" height="1" fill="#000"/>
<rect x="200" y="255" width="1" height="1" fill="#000"/>
<rect x="41" y="249" width="2" height="1" fill="#000"/>
<rect x="200" y="249" width="1" height="1" fill="#000"/>
<rect x="41" y="245" width="2" height="1" fill="#000"/>
<rect x="200" y="245" width="1" height="1" fill="#000"/>
<rect x="41" y="242" width="2" height="1" fill="#000"/>
<rect x="200" y="242" width="1" height="1" fill="#000"/>
<rect x="41" y="240" width="2" height="1" fill="#000"/>
<rect x="200" y="240" width="1" height="1" fill="#000"/>
<rect x="41" y="238" width="2" height="1" fill="#000"/>
<rect x="200" y="238" width="1" height="1" fill="#000"/>
<rect x="41" y="236" width="2" height="1" fill="#000"/>
<rect x="200" y="236" width="1" height="1" fill="#000"/>
<rect x="41" y="234" width="2" height="1" fill="#000"/>
<rect x="200" y="234" width="1" height="1" fill="#000"/>
<text class="t" x="37.9" y="236" font-size="7.0" text-anchor="end" textLength="11.4" lengthAdjust="spacing" >100</text>
<rect x="41" y="233" width="3" height="1" fill="#000"/>
<rect x="198" y="233" width="3" height="1" fill="#000"/>
<rect x="41" y="224" width="2" height="1" fill="#000"/>
<rect x="200" y="224" width="1" height="1" fill="#000"/>
<rect x="41" y="218" width="2" height="1" fill="#000"/>
<rect x="200" y="218" width="1" height="1" fill="#000"/>
<rect x="41" y="214" width="2" height="1" fill="#000"/>
<rect x="200" y="214" width="1" height="1" fill="#000"/>
<rect x="41" y="211" width="2" height="1" fill="#000"/>
<rect x="200" y="211" width="1" height="1" fill="#000"/>
<rect x="41" y="209" width="2" height="1" fill="#000"/>
<rect x="200" y="209" width="1" height="1" fill="#000"/>
<rect x="41" y="207" width="2" height="1" fill="#000"/>
<rect x="200" y="207" width="1" height="1" fill="#000"/>
<rect x="41" y="205" width="2" height="1" fill="#000"/>
<rect x="200" y="205" width="1" height="1" fill="#000"/>
<rect x="41" y="203" width="2" height="1" fill="#000"/>
<rect x="200" y="203" width="1" height="1" fill="#000"/>
<text class="t" x="37.9" y="205" font-size="7.0" text-anchor="end" textLength="15.4" lengthAdjust="spacing" >1000</text>
<rect x="41" y="202" width="3" height="1" fill="#000"/>
<rect x="198" y="202" width="3" height="1" fill="#000"/>
<rect x="41" y="193" width="2" height="1" fill="#000"/>
<rect x="200" y="193" width="1" height="1" fill="#000"/>
<rect x="41" y="187" width="2" height="1" fill="#000"/>
<rect x="200" y="187" width="1" height="1" fill="#000"/>
<rect x="41" y="183" width="2" height="1" fill="#000"/>
<rect x="200" y="183" width="1" height="1" fill="#000"/>
<rect x="41" y="180" width="2" height="1" fill="#000"/>
<rect x="200" y="180" width="1" height="1" fill="#000"/>
<rect x="41" y="178" width="2" height="1" fill="#000"/>
<rect x="200" y="178" width="1" height="1" fill="#000"/>
<rect x="41" y="176" width="2" height="1" fill="#000"/>
<rect x="200" y="176" width="1" height="1" fill="#000"/>
<rect x="41" y="174" width="2" height="1" fill="#000"/>
<rect x="200" y="174" width="1" height="1" fill="#000"/>
<rect x="41" y="172" width="2" height="1" fill="#000"/>
<rect x="200" y="172" width="1" height="1" fill="#000"/>
<text class="t" x="37.9" y="176" font-size="7.0" text-anchor="end" textLength="19.4" lengthAdjust="spacing" >10000</text>
<path d="M58 172h1v4h-1zM58 183h1v7h-1zM58 197h1v7h-1zM58 211h1v7h-1zM58 225h1v7h-1zM58 239h1v7h-1zM58 253h1v7h-1zM58 267h1v7h-1zM58 281h1v7h-1zM68 172h1v1h-1zM68 176h1v1h-1zM68 180h1v1h-1zM68 184h1v1h-1zM68 188h1v1h-1zM68 192h1v1h-1zM68 196h1v1h-1zM68 200h1v1h-1zM68 204h1v1h-1zM68 208h1v1h-1zM68 212h1v1h-1zM68 216h1v1h-1zM68 220h1v1h-1zM68 224h1v1h-1zM68 228h1v1h-1zM68 232h1v1h-1zM68 236h1v1h-1zM68 240h1v1h-1zM68 244h1v1h-1zM68 248h1v1h-1zM68 252h1v1h-1zM68 256h1v1h-1zM68 260h1v1h-1zM68 264h1v1h-1zM68 268h1v1h-1zM68 272h1v1h-1zM68 276h1v1h-1zM68 280h1v1h-1zM68 284h1v1h-1zM68 288h1v1h-1zM68 292h1v1h-1zM99 172h1v3h-1zM99 182h1v7h-1zM99 196h1v7h-1zM99 210h1v7h-1zM99 224h1v7h-1zM99 238h1v7h-1zM99 252h1v7h-1zM99 266h1v7h-1zM99 280h1v7h-1zM99 294h1v1h-1zM107 172h1v123h-1zM166 172h1v123h-1zM167 173h1v1h-1zM167 177h1v1h-1zM167 181h1v1h-1zM167 185h1v1h-1zM167 189h1v1h-1zM167 193h1v1h-1zM167 197h1v1h-1zM167 201h1v1h-1zM167 205h1v1h-1zM167 209h1v1h-1zM167 213h1v1h-1zM167 217h1v1h-1zM167 221h1v1h-1zM167 225h1v1h-1zM167 229h1v1h-1zM167 233h1v1h-1zM167 237h1v1h-1zM167 241h1v1h-1zM167 245h1v1h-1zM167 249h1v1h-1zM167 253h1v1h-1zM167 257h1v1h-1zM167 261h1v1h-1zM167 265h1v1h-1zM167 269h1v1h-1zM167 273h1v1h-1zM167 277h1v1h-1zM167 281h1v1h-1zM167 285h1v1h-1zM167 289h1v1h-1zM167 293h1v1h-1zM195 174h1v1h-1zM195 178h1v1h-1zM195 182h1v1h-1zM195 186h1v1h-1zM195 190h1v1h-1zM195 194h1v1h-1zM195 198h1v1h-1zM195 202h1v1h-1zM195 206h1v1h-1zM195 210h1v1h-1zM195 214h1v1h-1zM195 218h1v1h-1zM195 222h1v1h-1zM195 226h1v1h-1zM195 230h1v1h-1zM195 234h1v1h-1zM195 238h1v1h-1zM195 242h1v1h-1zM195 246h1v1h-1zM195 250h1v1h-1zM195 254h1v1h-1zM195 258h1v1h-1zM195 262h1v1h-1zM195 266h1v1h-1zM195 270h1v1h-1zM195 274h1v1h-1zM195 278h1v1h-1zM195 282h1v1h-1zM195 286h1v1h-1zM195 290h1v1h-1zM195 294h1v1h-1z" fill="#000"/>
<g clip-path="url(#c01)">
<polyline points="41.50,218.50 54.80,218.50 55.30,218.50 55.30,210.00 56.60,201.20 57.80,191.90 59.00,182.50 59.80,172.00 60.45,163.50" fill="none" stroke="#000" stroke-width="1"/>
<polyline points="95.39,163.50 96.00,171.50 97.10,186.00 98.70,197.70 100.10,208.30 101.20,212.80 104.70,214.50 107.50,217.50 120.50,217.50 120.50,218.50 138.50,218.50 138.50,217.50 166.50,217.50 166.50,218.50 175.50,218.50 175.50,219.50 194.50,219.50" fill="none" stroke="#000" stroke-width="1"/>
<polyline points="41.50,217.50 51.20,217.50 53.00,216.50 54.70,209.50 56.40,201.20 57.60,191.90 58.80,182.50 59.60,172.00 60.25,163.50" fill="none" stroke="#f00" stroke-width="1"/>
<polyline points="95.19,163.50 95.80,171.50 96.90,186.00 98.50,197.70 99.90,208.30 101.00,211.80 104.50,213.50 107.50,215.50 120.50,215.50 120.50,216.50 134.50,216.50 134.50,215.50 166.50,215.50 166.50,216.50 173.50,216.50 173.50,217.50 194.50,217.50" fill="none" stroke="#f00" stroke-width="1"/>
</g>
<text transform="translate(42,177) scale(0.8,1)" x="-1.3" font-size="14.4">E</text>
<text transform="translate(58,177) scale(0.95,1)" x="-1.3" font-size="14.4">S</text>
<text transform="translate(108,177) scale(0.8,1)" x="-1.3" font-size="14.4">F</text>
<text transform="translate(169,177) scale(0.8,1)" x="-1.3" font-size="14.4">E</text>
<clipPath id="c11"><rect x="253" y="171" width="163" height="125"/></clipPath>
<rect x="253" y="171" width="163" height="1" fill="#000"/>
<rect x="253" y="295" width="163" height="1" fill="#000"/>
<rect x="253" y="171" width="1" height="125" fill="#000"/>
<rect x="415" y="171" width="1" height="125" fill="#000"/>
<rect x="258" y="294" width="1" height="1" fill="#000"/>
<rect x="258" y="172" width="1" height="1" fill="#000"/>
<rect x="266" y="294" width="1" height="1" fill="#000"/>
<rect x="266" y="172" width="1" height="1" fill="#000"/>
<rect x="274" y="293" width="1" height="2" fill="#000"/>
<rect x="274" y="172" width="1" height="2" fill="#000"/>
<rect x="282" y="294" width="1" height="1" fill="#000"/>
<rect x="282" y="172" width="1" height="1" fill="#000"/>
<rect x="290" y="294" width="1" height="1" fill="#000"/>
<rect x="290" y="172" width="1" height="1" fill="#000"/>
<rect x="299" y="293" width="1" height="2" fill="#000"/>
<rect x="299" y="172" width="1" height="2" fill="#000"/>
<rect x="307" y="294" width="1" height="1" fill="#000"/>
<rect x="307" y="172" width="1" height="1" fill="#000"/>
<rect x="315" y="294" width="1" height="1" fill="#000"/>
<rect x="315" y="172" width="1" height="1" fill="#000"/>
<rect x="323" y="293" width="1" height="2" fill="#000"/>
<rect x="323" y="172" width="1" height="2" fill="#000"/>
<rect x="331" y="294" width="1" height="1" fill="#000"/>
<rect x="331" y="172" width="1" height="1" fill="#000"/>
<rect x="339" y="294" width="1" height="1" fill="#000"/>
<rect x="339" y="172" width="1" height="1" fill="#000"/>
<rect x="347" y="293" width="1" height="2" fill="#000"/>
<rect x="347" y="172" width="1" height="2" fill="#000"/>
<rect x="355" y="294" width="1" height="1" fill="#000"/>
<rect x="355" y="172" width="1" height="1" fill="#000"/>
<rect x="363" y="294" width="1" height="1" fill="#000"/>
<rect x="363" y="172" width="1" height="1" fill="#000"/>
<rect x="371" y="293" width="1" height="2" fill="#000"/>
<rect x="371" y="172" width="1" height="2" fill="#000"/>
<rect x="379" y="294" width="1" height="1" fill="#000"/>
<rect x="379" y="172" width="1" height="1" fill="#000"/>
<rect x="387" y="294" width="1" height="1" fill="#000"/>
<rect x="387" y="172" width="1" height="1" fill="#000"/>
<rect x="395" y="293" width="1" height="2" fill="#000"/>
<rect x="395" y="172" width="1" height="2" fill="#000"/>
<rect x="403" y="294" width="1" height="1" fill="#000"/>
<rect x="403" y="172" width="1" height="1" fill="#000"/>
<rect x="411" y="294" width="1" height="1" fill="#000"/>
<rect x="411" y="172" width="1" height="1" fill="#000"/>
<text class="t" x="274.5" y="305" font-size="7.0" text-anchor="middle" textLength="19" lengthAdjust="spacing" >08:45</text>
<text class="t" x="299.5" y="305" font-size="7.0" text-anchor="middle" textLength="19" lengthAdjust="spacing" >09:00</text>
<text class="t" x="323.5" y="305" font-size="7.0" text-anchor="middle" textLength="19" lengthAdjust="spacing" >09:15</text>
<text class="t" x="347.5" y="305" font-size="7.0" text-anchor="middle" textLength="19" lengthAdjust="spacing" >09:30</text>
<text class="t" x="371.5" y="305" font-size="7.0" text-anchor="middle" textLength="19" lengthAdjust="spacing" >09:45</text>
<text class="t" x="395.5" y="305" font-size="7.0" text-anchor="middle" textLength="19" lengthAdjust="spacing" >10:00</text>
<text class="t" x="276.05" y="313" font-size="7.0" text-anchor="start" textLength="33.8" lengthAdjust="spacing" >Start Time</text>
<text class="t" x="313.55" y="313" font-size="7.0" text-anchor="start" textLength="42.2" lengthAdjust="spacing" >(01-Jun-03</text>
<text class="t" x="359.54999999999995" y="313" font-size="7.0" text-anchor="start" textLength="32.3" lengthAdjust="spacing" >08:32:00)</text>
<text class="t" x="259.0" y="167.5" font-size="7.0" text-anchor="start" textLength="25.6" lengthAdjust="spacing" >Det 5r</text>
<text class="t" x="289.9" y="167.5" font-size="7.0" text-anchor="start" textLength="25.35" lengthAdjust="spacing" >BLACK</text>
<text class="t" x="319.9" y="167.5" font-size="7.0" text-anchor="start" textLength="6.2" lengthAdjust="spacingAndGlyphs" >=</text>
<text class="t" x="330.79999999999995" y="167.5" font-size="7.0" text-anchor="start" textLength="28.5" lengthAdjust="spacing" >Events,</text>
<text class="t" x="363.9" y="167.5" font-size="7.0" text-anchor="start" textLength="16.5" lengthAdjust="spacing" >RED</text>
<text class="t" x="385.0" y="167.5" font-size="7.0" text-anchor="start" textLength="5.5" lengthAdjust="spacingAndGlyphs" >=</text>
<text class="t" x="395.6" y="167.5" font-size="7.0" text-anchor="start" textLength="13.9" lengthAdjust="spacing" >LLD</text>
<text class="t" x="0" y="0" font-size="7.0" text-anchor="middle" textLength="38" lengthAdjust="spacingAndGlyphs" transform="translate(224.8,234.0) rotate(-90)">Counts/sec</text>
<text class="t" x="250.9" y="296" font-size="7.0" text-anchor="end" textLength="3.4" lengthAdjust="spacing" >1</text>
<rect x="254" y="286" width="2" height="1" fill="#000"/>
<rect x="413" y="286" width="2" height="1" fill="#000"/>
<rect x="254" y="280" width="2" height="1" fill="#000"/>
<rect x="413" y="280" width="2" height="1" fill="#000"/>
<rect x="254" y="276" width="2" height="1" fill="#000"/>
<rect x="413" y="276" width="2" height="1" fill="#000"/>
<rect x="254" y="273" width="2" height="1" fill="#000"/>
<rect x="413" y="273" width="2" height="1" fill="#000"/>
<rect x="254" y="271" width="2" height="1" fill="#000"/>
<rect x="413" y="271" width="2" height="1" fill="#000"/>
<rect x="254" y="269" width="2" height="1" fill="#000"/>
<rect x="413" y="269" width="2" height="1" fill="#000"/>
<rect x="254" y="267" width="2" height="1" fill="#000"/>
<rect x="413" y="267" width="2" height="1" fill="#000"/>
<rect x="254" y="265" width="2" height="1" fill="#000"/>
<rect x="413" y="265" width="2" height="1" fill="#000"/>
<text class="t" x="250.9" y="267" font-size="7.0" text-anchor="end" textLength="7.4" lengthAdjust="spacing" >10</text>
<rect x="254" y="264" width="3" height="1" fill="#000"/>
<rect x="412" y="264" width="3" height="1" fill="#000"/>
<rect x="254" y="255" width="2" height="1" fill="#000"/>
<rect x="413" y="255" width="2" height="1" fill="#000"/>
<rect x="254" y="249" width="2" height="1" fill="#000"/>
<rect x="413" y="249" width="2" height="1" fill="#000"/>
<rect x="254" y="245" width="2" height="1" fill="#000"/>
<rect x="413" y="245" width="2" height="1" fill="#000"/>
<rect x="254" y="242" width="2" height="1" fill="#000"/>
<rect x="413" y="242" width="2" height="1" fill="#000"/>
<rect x="254" y="240" width="2" height="1" fill="#000"/>
<rect x="413" y="240" width="2" height="1" fill="#000"/>
<rect x="254" y="238" width="2" height="1" fill="#000"/>
<rect x="413" y="238" width="2" height="1" fill="#000"/>
<rect x="254" y="236" width="2" height="1" fill="#000"/>
<rect x="413" y="236" width="2" height="1" fill="#000"/>
<rect x="254" y="234" width="2" height="1" fill="#000"/>
<rect x="413" y="234" width="2" height="1" fill="#000"/>
<text class="t" x="250.9" y="236" font-size="7.0" text-anchor="end" textLength="11.4" lengthAdjust="spacing" >100</text>
<rect x="254" y="233" width="3" height="1" fill="#000"/>
<rect x="412" y="233" width="3" height="1" fill="#000"/>
<rect x="254" y="224" width="2" height="1" fill="#000"/>
<rect x="413" y="224" width="2" height="1" fill="#000"/>
<rect x="254" y="218" width="2" height="1" fill="#000"/>
<rect x="413" y="218" width="2" height="1" fill="#000"/>
<rect x="254" y="214" width="2" height="1" fill="#000"/>
<rect x="413" y="214" width="2" height="1" fill="#000"/>
<rect x="254" y="211" width="2" height="1" fill="#000"/>
<rect x="413" y="211" width="2" height="1" fill="#000"/>
<rect x="254" y="209" width="2" height="1" fill="#000"/>
<rect x="413" y="209" width="2" height="1" fill="#000"/>
<rect x="254" y="207" width="2" height="1" fill="#000"/>
<rect x="413" y="207" width="2" height="1" fill="#000"/>
<rect x="254" y="205" width="2" height="1" fill="#000"/>
<rect x="413" y="205" width="2" height="1" fill="#000"/>
<rect x="254" y="203" width="2" height="1" fill="#000"/>
<rect x="413" y="203" width="2" height="1" fill="#000"/>
<text class="t" x="250.9" y="205" font-size="7.0" text-anchor="end" textLength="15.4" lengthAdjust="spacing" >1000</text>
<rect x="254" y="202" width="3" height="1" fill="#000"/>
<rect x="412" y="202" width="3" height="1" fill="#000"/>
<rect x="254" y="193" width="2" height="1" fill="#000"/>
<rect x="413" y="193" width="2" height="1" fill="#000"/>
<rect x="254" y="187" width="2" height="1" fill="#000"/>
<rect x="413" y="187" width="2" height="1" fill="#000"/>
<rect x="254" y="183" width="2" height="1" fill="#000"/>
<rect x="413" y="183" width="2" height="1" fill="#000"/>
<rect x="254" y="180" width="2" height="1" fill="#000"/>
<rect x="413" y="180" width="2" height="1" fill="#000"/>
<rect x="254" y="178" width="2" height="1" fill="#000"/>
<rect x="413" y="178" width="2" height="1" fill="#000"/>
<rect x="254" y="176" width="2" height="1" fill="#000"/>
<rect x="413" y="176" width="2" height="1" fill="#000"/>
<rect x="254" y="174" width="2" height="1" fill="#000"/>
<rect x="413" y="174" width="2" height="1" fill="#000"/>
<rect x="254" y="172" width="2" height="1" fill="#000"/>
<rect x="413" y="172" width="2" height="1" fill="#000"/>
<text class="t" x="250.9" y="176" font-size="7.0" text-anchor="end" textLength="19.4" lengthAdjust="spacing" >10000</text>
<path d="M272 172h1v2h-1zM272 181h1v7h-1zM272 195h1v7h-1zM272 209h1v7h-1zM272 223h1v7h-1zM272 237h1v7h-1zM272 251h1v7h-1zM272 265h1v7h-1zM272 279h1v7h-1zM272 293h1v2h-1zM281 172h1v1h-1zM281 176h1v1h-1zM281 180h1v1h-1zM281 184h1v1h-1zM281 188h1v1h-1zM281 192h1v1h-1zM281 196h1v1h-1zM281 200h1v1h-1zM281 204h1v1h-1zM281 208h1v1h-1zM281 212h1v1h-1zM281 216h1v1h-1zM281 220h1v1h-1zM281 224h1v1h-1zM281 228h1v1h-1zM281 232h1v1h-1zM281 236h1v1h-1zM281 240h1v1h-1zM281 244h1v1h-1zM281 248h1v1h-1zM281 252h1v1h-1zM281 256h1v1h-1zM281 260h1v1h-1zM281 264h1v1h-1zM281 268h1v1h-1zM281 272h1v1h-1zM281 276h1v1h-1zM281 280h1v1h-1zM281 284h1v1h-1zM281 288h1v1h-1zM281 292h1v1h-1zM312 172h1v1h-1zM312 180h1v7h-1zM312 194h1v7h-1zM312 208h1v7h-1zM312 222h1v7h-1zM312 236h1v7h-1zM312 250h1v7h-1zM312 264h1v7h-1zM312 278h1v7h-1zM312 292h1v3h-1zM320 172h1v123h-1zM380 172h1v123h-1zM381 173h1v1h-1zM381 177h1v1h-1zM381 181h1v1h-1zM381 185h1v1h-1zM381 189h1v1h-1zM381 193h1v1h-1zM381 197h1v1h-1zM381 201h1v1h-1zM381 205h1v1h-1zM381 209h1v1h-1zM381 213h1v1h-1zM381 217h1v1h-1zM381 221h1v1h-1zM381 225h1v1h-1zM381 229h1v1h-1zM381 233h1v1h-1zM381 237h1v1h-1zM381 241h1v1h-1zM381 245h1v1h-1zM381 249h1v1h-1zM381 253h1v1h-1zM381 257h1v1h-1zM381 261h1v1h-1zM381 265h1v1h-1zM381 269h1v1h-1zM381 273h1v1h-1zM381 277h1v1h-1zM381 281h1v1h-1zM381 285h1v1h-1zM381 289h1v1h-1zM381 293h1v1h-1zM408 174h1v1h-1zM408 178h1v1h-1zM408 182h1v1h-1zM408 186h1v1h-1zM408 190h1v1h-1zM408 194h1v1h-1zM408 198h1v1h-1zM408 202h1v1h-1zM408 206h1v1h-1zM408 210h1v1h-1zM408 214h1v1h-1zM408 218h1v1h-1zM408 222h1v1h-1zM408 226h1v1h-1zM408 230h1v1h-1zM408 234h1v1h-1zM408 238h1v1h-1zM408 242h1v1h-1zM408 246h1v1h-1zM408 250h1v1h-1zM408 254h1v1h-1zM408 258h1v1h-1zM408 262h1v1h-1zM408 266h1v1h-1zM408 270h1v1h-1zM408 274h1v1h-1zM408 278h1v1h-1zM408 282h1v1h-1zM408 286h1v1h-1zM408 290h1v1h-1zM408 294h1v1h-1z" fill="#000"/>
<g clip-path="url(#c11)">
<polyline points="254.50,219.50 267.80,219.50 268.30,219.50 268.30,211.50 269.10,203.50 270.80,191.90 272.00,182.50 273.50,172.00 274.71,163.50" fill="none" stroke="#000" stroke-width="1"/>
<polyline points="308.06,163.50 309.00,171.50 310.70,186.00 311.70,197.70 312.50,207.10 314.20,212.80 317.20,215.70 320.50,219.50 330.50,219.50 330.50,220.50 351.50,220.50 351.50,218.50 369.50,218.50 369.50,217.50 371.50,217.50 371.50,218.50 381.50,218.50 381.50,219.50 389.50,219.50 389.50,220.50 407.50,220.50" fill="none" stroke="#000" stroke-width="1"/>
<polyline points="254.50,218.50 264.80,218.50 266.00,217.50 267.70,211.80 268.90,203.50 270.60,191.90 271.80,182.50 273.30,172.00 274.51,163.50" fill="none" stroke="#f00" stroke-width="1"/>
<polyline points="307.86,163.50 308.80,171.50 310.50,186.00 311.50,197.70 312.30,207.10 314.00,211.80 317.00,214.70 320.50,217.50 327.50,217.50 327.50,218.50 353.50,218.50 353.50,217.50 358.50,217.50 358.50,216.50 369.50,216.50 369.50,217.50 378.50,217.50 378.50,218.50 386.50,218.50 386.50,219.50 407.50,219.50" fill="none" stroke="#f00" stroke-width="1"/>
</g>
<text transform="translate(255,177) scale(0.8,1)" x="-1.3" font-size="14.4">E</text>
<text transform="translate(272,177) scale(0.95,1)" x="-1.3" font-size="14.4">S</text>
<text transform="translate(322,177) scale(0.8,1)" x="-1.3" font-size="14.4">F</text>
<text transform="translate(382,177) scale(0.8,1)" x="-1.3" font-size="14.4">E</text>
<clipPath id="c21"><rect x="467" y="171" width="162" height="125"/></clipPath>
<rect x="467" y="171" width="162" height="1" fill="#000"/>
<rect x="467" y="295" width="162" height="1" fill="#000"/>
<rect x="467" y="171" width="1" height="125" fill="#000"/>
<rect x="628" y="171" width="1" height="125" fill="#000"/>
<rect x="472" y="294" width="1" height="1" fill="#000"/>
<rect x="472" y="172" width="1" height="1" fill="#000"/>
<rect x="480" y="294" width="1" height="1" fill="#000"/>
<rect x="480" y="172" width="1" height="1" fill="#000"/>
<rect x="488" y="293" width="1" height="2" fill="#000"/>
<rect x="488" y="172" width="1" height="2" fill="#000"/>
<rect x="496" y="294" width="1" height="1" fill="#000"/>
<rect x="496" y="172" width="1" height="1" fill="#000"/>
<rect x="504" y="294" width="1" height="1" fill="#000"/>
<rect x="504" y="172" width="1" height="1" fill="#000"/>
<rect x="512" y="293" width="1" height="2" fill="#000"/>
<rect x="512" y="172" width="1" height="2" fill="#000"/>
<rect x="520" y="294" width="1" height="1" fill="#000"/>
<rect x="520" y="172" width="1" height="1" fill="#000"/>
<rect x="528" y="294" width="1" height="1" fill="#000"/>
<rect x="528" y="172" width="1" height="1" fill="#000"/>
<rect x="536" y="293" width="1" height="2" fill="#000"/>
<rect x="536" y="172" width="1" height="2" fill="#000"/>
<rect x="544" y="294" width="1" height="1" fill="#000"/>
<rect x="544" y="172" width="1" height="1" fill="#000"/>
<rect x="552" y="294" width="1" height="1" fill="#000"/>
<rect x="552" y="172" width="1" height="1" fill="#000"/>
<rect x="560" y="293" width="1" height="2" fill="#000"/>
<rect x="560" y="172" width="1" height="2" fill="#000"/>
<rect x="568" y="294" width="1" height="1" fill="#000"/>
<rect x="568" y="172" width="1" height="1" fill="#000"/>
<rect x="577" y="294" width="1" height="1" fill="#000"/>
<rect x="577" y="172" width="1" height="1" fill="#000"/>
<rect x="585" y="293" width="1" height="2" fill="#000"/>
<rect x="585" y="172" width="1" height="2" fill="#000"/>
<rect x="593" y="294" width="1" height="1" fill="#000"/>
<rect x="593" y="172" width="1" height="1" fill="#000"/>
<rect x="601" y="294" width="1" height="1" fill="#000"/>
<rect x="601" y="172" width="1" height="1" fill="#000"/>
<rect x="609" y="293" width="1" height="2" fill="#000"/>
<rect x="609" y="172" width="1" height="2" fill="#000"/>
<rect x="617" y="294" width="1" height="1" fill="#000"/>
<rect x="617" y="172" width="1" height="1" fill="#000"/>
<rect x="625" y="294" width="1" height="1" fill="#000"/>
<rect x="625" y="172" width="1" height="1" fill="#000"/>
<text class="t" x="488.5" y="305" font-size="7.0" text-anchor="middle" textLength="19" lengthAdjust="spacing" >08:45</text>
<text class="t" x="512.5" y="305" font-size="7.0" text-anchor="middle" textLength="19" lengthAdjust="spacing" >09:00</text>
<text class="t" x="536.5" y="305" font-size="7.0" text-anchor="middle" textLength="19" lengthAdjust="spacing" >09:15</text>
<text class="t" x="560.5" y="305" font-size="7.0" text-anchor="middle" textLength="19" lengthAdjust="spacing" >09:30</text>
<text class="t" x="585.5" y="305" font-size="7.0" text-anchor="middle" textLength="19" lengthAdjust="spacing" >09:45</text>
<text class="t" x="609.5" y="305" font-size="7.0" text-anchor="middle" textLength="19" lengthAdjust="spacing" >10:00</text>
<text class="t" x="489.6" y="313" font-size="7.0" text-anchor="start" textLength="33.8" lengthAdjust="spacing" >Start Time</text>
<text class="t" x="527.1" y="313" font-size="7.0" text-anchor="start" textLength="42.2" lengthAdjust="spacing" >(01-Jun-03</text>
<text class="t" x="573.1" y="313" font-size="7.0" text-anchor="start" textLength="32.3" lengthAdjust="spacing" >08:32:00)</text>
<text class="t" x="472.55" y="167.5" font-size="7.0" text-anchor="start" textLength="25.6" lengthAdjust="spacing" >Det 6r</text>
<text class="t" x="503.45" y="167.5" font-size="7.0" text-anchor="start" textLength="25.35" lengthAdjust="spacing" >BLACK</text>
<text class="t" x="533.45" y="167.5" font-size="7.0" text-anchor="start" textLength="6.2" lengthAdjust="spacingAndGlyphs" >=</text>
<text class="t" x="544.35" y="167.5" font-size="7.0" text-anchor="start" textLength="28.5" lengthAdjust="spacing" >Events,</text>
<text class="t" x="577.45" y="167.5" font-size="7.0" text-anchor="start" textLength="16.5" lengthAdjust="spacing" >RED</text>
<text class="t" x="598.55" y="167.5" font-size="7.0" text-anchor="start" textLength="5.5" lengthAdjust="spacingAndGlyphs" >=</text>
<text class="t" x="609.15" y="167.5" font-size="7.0" text-anchor="start" textLength="13.9" lengthAdjust="spacing" >LLD</text>
<text class="t" x="0" y="0" font-size="7.0" text-anchor="middle" textLength="38" lengthAdjust="spacingAndGlyphs" transform="translate(438.8,234.0) rotate(-90)">Counts/sec</text>
<text class="t" x="464.9" y="296" font-size="7.0" text-anchor="end" textLength="3.4" lengthAdjust="spacing" >1</text>
<rect x="468" y="286" width="2" height="1" fill="#000"/>
<rect x="626" y="286" width="2" height="1" fill="#000"/>
<rect x="468" y="280" width="2" height="1" fill="#000"/>
<rect x="626" y="280" width="2" height="1" fill="#000"/>
<rect x="468" y="276" width="2" height="1" fill="#000"/>
<rect x="626" y="276" width="2" height="1" fill="#000"/>
<rect x="468" y="273" width="2" height="1" fill="#000"/>
<rect x="626" y="273" width="2" height="1" fill="#000"/>
<rect x="468" y="271" width="2" height="1" fill="#000"/>
<rect x="626" y="271" width="2" height="1" fill="#000"/>
<rect x="468" y="269" width="2" height="1" fill="#000"/>
<rect x="626" y="269" width="2" height="1" fill="#000"/>
<rect x="468" y="267" width="2" height="1" fill="#000"/>
<rect x="626" y="267" width="2" height="1" fill="#000"/>
<rect x="468" y="265" width="2" height="1" fill="#000"/>
<rect x="626" y="265" width="2" height="1" fill="#000"/>
<text class="t" x="464.9" y="267" font-size="7.0" text-anchor="end" textLength="7.4" lengthAdjust="spacing" >10</text>
<rect x="468" y="264" width="3" height="1" fill="#000"/>
<rect x="625" y="264" width="3" height="1" fill="#000"/>
<rect x="468" y="255" width="2" height="1" fill="#000"/>
<rect x="626" y="255" width="2" height="1" fill="#000"/>
<rect x="468" y="249" width="2" height="1" fill="#000"/>
<rect x="626" y="249" width="2" height="1" fill="#000"/>
<rect x="468" y="245" width="2" height="1" fill="#000"/>
<rect x="626" y="245" width="2" height="1" fill="#000"/>
<rect x="468" y="242" width="2" height="1" fill="#000"/>
<rect x="626" y="242" width="2" height="1" fill="#000"/>
<rect x="468" y="240" width="2" height="1" fill="#000"/>
<rect x="626" y="240" width="2" height="1" fill="#000"/>
<rect x="468" y="238" width="2" height="1" fill="#000"/>
<rect x="626" y="238" width="2" height="1" fill="#000"/>
<rect x="468" y="236" width="2" height="1" fill="#000"/>
<rect x="626" y="236" width="2" height="1" fill="#000"/>
<rect x="468" y="234" width="2" height="1" fill="#000"/>
<rect x="626" y="234" width="2" height="1" fill="#000"/>
<text class="t" x="464.9" y="236" font-size="7.0" text-anchor="end" textLength="11.4" lengthAdjust="spacing" >100</text>
<rect x="468" y="233" width="3" height="1" fill="#000"/>
<rect x="625" y="233" width="3" height="1" fill="#000"/>
<rect x="468" y="224" width="2" height="1" fill="#000"/>
<rect x="626" y="224" width="2" height="1" fill="#000"/>
<rect x="468" y="218" width="2" height="1" fill="#000"/>
<rect x="626" y="218" width="2" height="1" fill="#000"/>
<rect x="468" y="214" width="2" height="1" fill="#000"/>
<rect x="626" y="214" width="2" height="1" fill="#000"/>
<rect x="468" y="211" width="2" height="1" fill="#000"/>
<rect x="626" y="211" width="2" height="1" fill="#000"/>
<rect x="468" y="209" width="2" height="1" fill="#000"/>
<rect x="626" y="209" width="2" height="1" fill="#000"/>
<rect x="468" y="207" width="2" height="1" fill="#000"/>
<rect x="626" y="207" width="2" height="1" fill="#000"/>
<rect x="468" y="205" width="2" height="1" fill="#000"/>
<rect x="626" y="205" width="2" height="1" fill="#000"/>
<rect x="468" y="203" width="2" height="1" fill="#000"/>
<rect x="626" y="203" width="2" height="1" fill="#000"/>
<text class="t" x="464.9" y="205" font-size="7.0" text-anchor="end" textLength="15.4" lengthAdjust="spacing" >1000</text>
<rect x="468" y="202" width="3" height="1" fill="#000"/>
<rect x="625" y="202" width="3" height="1" fill="#000"/>
<rect x="468" y="193" width="2" height="1" fill="#000"/>
<rect x="626" y="193" width="2" height="1" fill="#000"/>
<rect x="468" y="187" width="2" height="1" fill="#000"/>
<rect x="626" y="187" width="2" height="1" fill="#000"/>
<rect x="468" y="183" width="2" height="1" fill="#000"/>
<rect x="626" y="183" width="2" height="1" fill="#000"/>
<rect x="468" y="180" width="2" height="1" fill="#000"/>
<rect x="626" y="180" width="2" height="1" fill="#000"/>
<rect x="468" y="178" width="2" height="1" fill="#000"/>
<rect x="626" y="178" width="2" height="1" fill="#000"/>
<rect x="468" y="176" width="2" height="1" fill="#000"/>
<rect x="626" y="176" width="2" height="1" fill="#000"/>
<rect x="468" y="174" width="2" height="1" fill="#000"/>
<rect x="626" y="174" width="2" height="1" fill="#000"/>
<rect x="468" y="172" width="2" height="1" fill="#000"/>
<rect x="626" y="172" width="2" height="1" fill="#000"/>
<text class="t" x="464.9" y="176" font-size="7.0" text-anchor="end" textLength="19.4" lengthAdjust="spacing" >10000</text>
<path d="M485 179h1v7h-1zM485 193h1v7h-1zM485 207h1v7h-1zM485 221h1v7h-1zM485 235h1v7h-1zM485 249h1v7h-1zM485 263h1v7h-1zM485 277h1v7h-1zM485 291h1v4h-1zM495 172h1v1h-1zM495 176h1v1h-1zM495 180h1v1h-1zM495 184h1v1h-1zM495 188h1v1h-1zM495 192h1v1h-1zM495 196h1v1h-1zM495 200h1v1h-1zM495 204h1v1h-1zM495 208h1v1h-1zM495 212h1v1h-1zM495 216h1v1h-1zM495 220h1v1h-1zM495 224h1v1h-1zM495 228h1v1h-1zM495 232h1v1h-1zM495 236h1v1h-1zM495 240h1v1h-1zM495 244h1v1h-1zM495 248h1v1h-1zM495 252h1v1h-1zM495 256h1v1h-1zM495 260h1v1h-1zM495 264h1v1h-1zM495 268h1v1h-1zM495 272h1v1h-1zM495 276h1v1h-1zM495 280h1v1h-1zM495 284h1v1h-1zM495 288h1v1h-1zM495 292h1v1h-1zM525 178h1v7h-1zM525 192h1v7h-1zM525 206h1v7h-1zM525 220h1v7h-1zM525 234h1v7h-1zM525 248h1v7h-1zM525 262h1v7h-1zM525 276h1v7h-1zM525 290h1v5h-1zM534 172h1v123h-1zM593 172h1v123h-1zM594 173h1v1h-1zM594 177h1v1h-1zM594 181h1v1h-1zM594 185h1v1h-1zM594 189h1v1h-1zM594 193h1v1h-1zM594 197h1v1h-1zM594 201h1v1h-1zM594 205h1v1h-1zM594 209h1v1h-1zM594 213h1v1h-1zM594 217h1v1h-1zM594 221h1v1h-1zM594 225h1v1h-1zM594 229h1v1h-1zM594 233h1v1h-1zM594 237h1v1h-1zM594 241h1v1h-1zM594 245h1v1h-1zM594 249h1v1h-1zM594 253h1v1h-1zM594 257h1v1h-1zM594 261h1v1h-1zM594 265h1v1h-1zM594 269h1v1h-1zM594 273h1v1h-1zM594 277h1v1h-1zM594 281h1v1h-1zM594 285h1v1h-1zM594 289h1v1h-1zM594 293h1v1h-1zM621 174h1v1h-1zM621 178h1v1h-1zM621 182h1v1h-1zM621 186h1v1h-1zM621 190h1v1h-1zM621 194h1v1h-1zM621 198h1v1h-1zM621 202h1v1h-1zM621 206h1v1h-1zM621 210h1v1h-1zM621 214h1v1h-1zM621 218h1v1h-1zM621 222h1v1h-1zM621 226h1v1h-1zM621 230h1v1h-1zM621 234h1v1h-1zM621 238h1v1h-1zM621 242h1v1h-1zM621 246h1v1h-1zM621 250h1v1h-1zM621 254h1v1h-1zM621 258h1v1h-1zM621 262h1v1h-1zM621 266h1v1h-1zM621 270h1v1h-1zM621 274h1v1h-1zM621 278h1v1h-1zM621 282h1v1h-1zM621 286h1v1h-1zM621 290h1v1h-1zM621 294h1v1h-1z" fill="#000"/>
<g clip-path="url(#c21)">
<polyline points="468.50,218.50 481.40,218.50 481.90,218.50 481.90,213.50 482.50,207.10 484.20,191.90 485.40,180.20 486.30,172.00 487.23,163.50" fill="none" stroke="#000" stroke-width="1"/>
<polyline points="522.39,163.50 523.00,171.50 524.10,186.00 525.00,195.40 525.90,203.60 526.50,211.60 529.40,213.40 532.30,215.10 534.50,217.50 545.50,217.50 545.50,218.50 554.50,218.50 554.50,219.50 564.50,219.50 564.50,218.50 575.50,218.50 575.50,216.50 593.50,216.50 593.50,218.50 600.50,218.50 600.50,220.50 621.50,220.50" fill="none" stroke="#000" stroke-width="1"/>
<polyline points="468.50,217.50 478.50,217.50 479.50,217.00 481.10,214.10 482.30,207.10 484.00,191.90 485.20,180.20 486.10,172.00 487.03,163.50" fill="none" stroke="#f00" stroke-width="1"/>
<polyline points="522.19,163.50 522.80,171.50 523.90,186.00 524.80,195.40 525.70,203.60 526.30,210.60 529.20,212.40 532.10,214.10 534.50,216.50 547.50,216.50 547.50,217.50 565.50,217.50 565.50,216.50 571.50,216.50 571.50,215.50 593.50,215.50 593.50,216.50 600.50,216.50 600.50,218.50 621.50,218.50" fill="none" stroke="#f00" stroke-width="1"/>
</g>
<text transform="translate(468,177) scale(0.8,1)" x="-1.3" font-size="14.4">E</text>
<text transform="translate(485,177) scale(0.95,1)" x="-1.3" font-size="14.4">S</text>
<text transform="translate(535,177) scale(0.8,1)" x="-1.3" font-size="14.4">F</text>
<text transform="translate(596,177) scale(0.8,1)" x="-1.3" font-size="14.4">E</text>
<clipPath id="c02"><rect x="40" y="331" width="162" height="125"/></clipPath>
<rect x="40" y="331" width="162" height="1" fill="#000"/>
<rect x="40" y="455" width="162" height="1" fill="#000"/>
<rect x="40" y="331" width="1" height="125" fill="#000"/>
<rect x="201" y="331" width="1" height="125" fill="#000"/>
<rect x="45" y="454" width="1" height="1" fill="#000"/>
<rect x="45" y="332" width="1" height="1" fill="#000"/>
<rect x="53" y="454" width="1" height="1" fill="#000"/>
<rect x="53" y="332" width="1" height="1" fill="#000"/>
<rect x="61" y="453" width="1" height="2" fill="#000"/>
<rect x="61" y="332" width="1" height="2" fill="#000"/>
<rect x="69" y="454" width="1" height="1" fill="#000"/>
<rect x="69" y="332" width="1" height="1" fill="#000"/>
<rect x="77" y="454" width="1" height="1" fill="#000"/>
<rect x="77" y="332" width="1" height="1" fill="#000"/>
<rect x="85" y="453" width="1" height="2" fill="#000"/>
<rect x="85" y="332" width="1" height="2" fill="#000"/>
<rect x="93" y="454" width="1" height="1" fill="#000"/>
<rect x="93" y="332" width="1" height="1" fill="#000"/>
<rect x="101" y="454" width="1" height="1" fill="#000"/>
<rect x="101" y="332" width="1" height="1" fill="#000"/>
<rect x="109" y="453" width="1" height="2" fill="#000"/>
<rect x="109" y="332" width="1" height="2" fill="#000"/>
<rect x="118" y="454" width="1" height="1" fill="#000"/>
<rect x="118" y="332" width="1" height="1" fill="#000"/>
<rect x="126" y="454" width="1" height="1" fill="#000"/>
<rect x="126" y="332" width="1" height="1" fill="#000"/>
<rect x="134" y="453" width="1" height="2" fill="#000"/>
<rect x="134" y="332" width="1" height="2" fill="#000"/>
<rect x="142" y="454" width="1" height="1" fill="#000"/>
<rect x="142" y="332" width="1" height="1" fill="#000"/>
<rect x="150" y="454" width="1" height="1" fill="#000"/>
<rect x="150" y="332" width="1" height="1" fill="#000"/>
<rect x="158" y="453" width="1" height="2" fill="#000"/>
<rect x="158" y="332" width="1" height="2" fill="#000"/>
<rect x="166" y="454" width="1" height="1" fill="#000"/>
<rect x="166" y="332" width="1" height="1" fill="#000"/>
<rect x="174" y="454" width="1" height="1" fill="#000"/>
<rect x="174" y="332" width="1" height="1" fill="#000"/>
<rect x="182" y="453" width="1" height="2" fill="#000"/>
<rect x="182" y="332" width="1" height="2" fill="#000"/>
<rect x="190" y="454" width="1" height="1" fill="#000"/>
<rect x="190" y="332" width="1" height="1" fill="#000"/>
<rect x="198" y="454" width="1" height="1" fill="#000"/>
<rect x="198" y="332" width="1" height="1" fill="#000"/>
<text class="t" x="61.5" y="465" font-size="7.0" text-anchor="middle" textLength="19" lengthAdjust="spacing" >08:45</text>
<text class="t" x="85.5" y="465" font-size="7.0" text-anchor="middle" textLength="19" lengthAdjust="spacing" >09:00</text>
<text class="t" x="109.5" y="465" font-size="7.0" text-anchor="middle" textLength="19" lengthAdjust="spacing" >09:15</text>
<text class="t" x="134.5" y="465" font-size="7.0" text-anchor="middle" textLength="19" lengthAdjust="spacing" >09:30</text>
<text class="t" x="158.5" y="465" font-size="7.0" text-anchor="middle" textLength="19" lengthAdjust="spacing" >09:45</text>
<text class="t" x="182.5" y="465" font-size="7.0" text-anchor="middle" textLength="19" lengthAdjust="spacing" >10:00</text>
<text class="t" x="62.800000000000004" y="473" font-size="7.0" text-anchor="start" textLength="33.8" lengthAdjust="spacing" >Start Time</text>
<text class="t" x="100.30000000000001" y="473" font-size="7.0" text-anchor="start" textLength="42.2" lengthAdjust="spacing" >(01-Jun-03</text>
<text class="t" x="146.3" y="473" font-size="7.0" text-anchor="start" textLength="32.3" lengthAdjust="spacing" >08:32:00)</text>
<text class="t" x="45.75" y="327.5" font-size="7.0" text-anchor="start" textLength="25.6" lengthAdjust="spacing" >Det 7r</text>
<text class="t" x="76.65" y="327.5" font-size="7.0" text-anchor="start" textLength="25.35" lengthAdjust="spacing" >BLACK</text>
<text class="t" x="106.65" y="327.5" font-size="7.0" text-anchor="start" textLength="6.2" lengthAdjust="spacingAndGlyphs" >=</text>
<text class="t" x="117.55" y="327.5" font-size="7.0" text-anchor="start" textLength="28.5" lengthAdjust="spacing" >Events,</text>
<text class="t" x="150.65" y="327.5" font-size="7.0" text-anchor="start" textLength="16.5" lengthAdjust="spacing" >RED</text>
<text class="t" x="171.75" y="327.5" font-size="7.0" text-anchor="start" textLength="5.5" lengthAdjust="spacingAndGlyphs" >=</text>
<text class="t" x="182.35000000000002" y="327.5" font-size="7.0" text-anchor="start" textLength="13.9" lengthAdjust="spacing" >LLD</text>
<text class="t" x="0" y="0" font-size="7.0" text-anchor="middle" textLength="38" lengthAdjust="spacingAndGlyphs" transform="translate(11.8,394.0) rotate(-90)">Counts/sec</text>
<text class="t" x="37.9" y="456" font-size="7.0" text-anchor="end" textLength="3.4" lengthAdjust="spacing" >1</text>
<rect x="41" y="446" width="2" height="1" fill="#000"/>
<rect x="200" y="446" width="1" height="1" fill="#000"/>
<rect x="41" y="440" width="2" height="1" fill="#000"/>
<rect x="200" y="440" width="1" height="1" fill="#000"/>
<rect x="41" y="436" width="2" height="1" fill="#000"/>
<rect x="200" y="436" width="1" height="1" fill="#000"/>
<rect x="41" y="433" width="2" height="1" fill="#000"/>
<rect x="200" y="433" width="1" height="1" fill="#000"/>
<rect x="41" y="431" width="2" height="1" fill="#000"/>
<rect x="200" y="431" width="1" height="1" fill="#000"/>
<rect x="41" y="429" width="2" height="1" fill="#000"/>
<rect x="200" y="429" width="1" height="1" fill="#000"/>
<rect x="41" y="427" width="2" height="1" fill="#000"/>
<rect x="200" y="427" width="1" height="1" fill="#000"/>
<rect x="41" y="425" width="2" height="1" fill="#000"/>
<rect x="200" y="425" width="1" height="1" fill="#000"/>
<text class="t" x="37.9" y="427" font-size="7.0" text-anchor="end" textLength="7.4" lengthAdjust="spacing" >10</text>
<rect x="41" y="424" width="3" height="1" fill="#000"/>
<rect x="198" y="424" width="3" height="1" fill="#000"/>
<rect x="41" y="415" width="2" height="1" fill="#000"/>
<rect x="200" y="415" width="1" height="1" fill="#000"/>
<rect x="41" y="409" width="2" height="1" fill="#000"/>
<rect x="200" y="409" width="1" height="1" fill="#000"/>
<rect x="41" y="405" width="2" height="1" fill="#000"/>
<rect x="200" y="405" width="1" height="1" fill="#000"/>
<rect x="41" y="402" width="2" height="1" fill="#000"/>
<rect x="200" y="402" width="1" height="1" fill="#000"/>
<rect x="41" y="400" width="2" height="1" fill="#000"/>
<rect x="200" y="400" width="1" height="1" fill="#000"/>
<rect x="41" y="398" width="2" height="1" fill="#000"/>
<rect x="200" y="398" width="1" height="1" fill="#000"/>
<rect x="41" y="396" width="2" height="1" fill="#000"/>
<rect x="200" y="396" width="1" height="1" fill="#000"/>
<rect x="41" y="394" width="2" height="1" fill="#000"/>
<rect x="200" y="394" width="1" height="1" fill="#000"/>
<text class="t" x="37.9" y="396" font-size="7.0" text-anchor="end" textLength="11.4" lengthAdjust="spacing" >100</text>
<rect x="41" y="393" width="3" height="1" fill="#000"/>
<rect x="198" y="393" width="3" height="1" fill="#000"/>
<rect x="41" y="384" width="2" height="1" fill="#000"/>
<rect x="200" y="384" width="1" height="1" fill="#000"/>
<rect x="41" y="378" width="2" height="1" fill="#000"/>
<rect x="200" y="378" width="1" height="1" fill="#000"/>
<rect x="41" y="374" width="2" height="1" fill="#000"/>
<rect x="200" y="374" width="1" height="1" fill="#000"/>
<rect x="41" y="371" width="2" height="1" fill="#000"/>
<rect x="200" y="371" width="1" height="1" fill="#000"/>
<rect x="41" y="369" width="2" height="1" fill="#000"/>
<rect x="200" y="369" width="1" height="1" fill="#000"/>
<rect x="41" y="367" width="2" height="1" fill="#000"/>
<rect x="200" y="367" width="1" height="1" fill="#000"/>
<rect x="41" y="365" width="2" height="1" fill="#000"/>
<rect x="200" y="365" width="1" height="1" fill="#000"/>
<rect x="41" y="363" width="2" height="1" fill="#000"/>
<rect x="200" y="363" width="1" height="1" fill="#000"/>
<text class="t" x="37.9" y="365" font-size="7.0" text-anchor="end" textLength="15.4" lengthAdjust="spacing" >1000</text>
<rect x="41" y="362" width="3" height="1" fill="#000"/>
<rect x="198" y="362" width="3" height="1" fill="#000"/>
<rect x="41" y="353" width="2" height="1" fill="#000"/>
<rect x="200" y="353" width="1" height="1" fill="#000"/>
<rect x="41" y="347" width="2" height="1" fill="#000"/>
<rect x="200" y="347" width="1" height="1" fill="#000"/>
<rect x="41" y="343" width="2" height="1" fill="#000"/>
<rect x="200" y="343" width="1" height="1" fill="#000"/>
<rect x="41" y="340" width="2" height="1" fill="#000"/>
<rect x="200" y="340" width="1" height="1" fill="#000"/>
<rect x="41" y="338" width="2" height="1" fill="#000"/>
<rect x="200" y="338" width="1" height="1" fill="#000"/>
<rect x="41" y="336" width="2" height="1" fill="#000"/>
<rect x="200" y="336" width="1" height="1" fill="#000"/>
<rect x="41" y="334" width="2" height="1" fill="#000"/>
<rect x="200" y="334" width="1" height="1" fill="#000"/>
<rect x="41" y="332" width="2" height="1" fill="#000"/>
<rect x="200" y="332" width="1" height="1" fill="#000"/>
<text class="t" x="37.9" y="336" font-size="7.0" text-anchor="end" textLength="19.4" lengthAdjust="spacing" >10000</text>
<path d="M58 337h1v7h-1zM58 351h1v7h-1zM58 365h1v7h-1zM58 379h1v7h-1zM58 393h1v7h-1zM58 407h1v7h-1zM58 421h1v7h-1zM58 435h1v7h-1zM58 449h1v6h-1zM68 332h1v1h-1zM68 336h1v1h-1zM68 340h1v1h-1zM68 344h1v1h-1zM68 348h1v1h-1zM68 352h1v1h-1zM68 356h1v1h-1zM68 360h1v1h-1zM68 364h1v1h-1zM68 368h1v1h-1zM68 372h1v1h-1zM68 376h1v1h-1zM68 380h1v1h-1zM68 384h1v1h-1zM68 388h1v1h-1zM68 392h1v1h-1zM68 396h1v1h-1zM68 400h1v1h-1zM68 404h1v1h-1zM68 408h1v1h-1zM68 412h1v1h-1zM68 416h1v1h-1zM68 420h1v1h-1zM68 424h1v1h-1zM68 428h1v1h-1zM68 432h1v1h-1zM68 436h1v1h-1zM68 440h1v1h-1zM68 444h1v1h-1zM68 448h1v1h-1zM68 452h1v1h-1zM99 336h1v7h-1zM99 350h1v7h-1zM99 364h1v7h-1zM99 378h1v7h-1zM99 392h1v7h-1zM99 406h1v7h-1zM99 420h1v7h-1zM99 434h1v7h-1zM99 448h1v7h-1zM107 332h1v123h-1zM166 332h1v123h-1zM167 333h1v1h-1zM167 337h1v1h-1zM167 341h1v1h-1zM167 345h1v1h-1zM167 349h1v1h-1zM167 353h1v1h-1zM167 357h1v1h-1zM167 361h1v1h-1zM167 365h1v1h-1zM167 369h1v1h-1zM167 373h1v1h-1zM167 377h1v1h-1zM167 381h1v1h-1zM167 385h1v1h-1zM167 389h1v1h-1zM167 393h1v1h-1zM167 397h1v1h-1zM167 401h1v1h-1zM167 405h1v1h-1zM167 409h1v1h-1zM167 413h1v1h-1zM167 417h1v1h-1zM167 421h1v1h-1zM167 425h1v1h-1zM167 429h1v1h-1zM167 433h1v1h-1zM167 437h1v1h-1zM167 441h1v1h-1zM167 445h1v1h-1zM167 449h1v1h-1zM167 453h1v1h-1zM195 334h1v1h-1zM195 338h1v1h-1zM195 342h1v1h-1zM195 346h1v1h-1zM195 350h1v1h-1zM195 354h1v1h-1zM195 358h1v1h-1zM195 362h1v1h-1zM195 366h1v1h-1zM195 370h1v1h-1zM195 374h1v1h-1zM195 378h1v1h-1zM195 382h1v1h-1zM195 386h1v1h-1zM195 390h1v1h-1zM195 394h1v1h-1zM195 398h1v1h-1zM195 402h1v1h-1zM195 406h1v1h-1zM195 410h1v1h-1zM195 414h1v1h-1zM195 418h1v1h-1zM195 422h1v1h-1zM195 426h1v1h-1zM195 430h1v1h-1zM195 434h1v1h-1zM195 438h1v1h-1zM195 442h1v1h-1zM195 446h1v1h-1zM195 450h1v1h-1zM195 454h1v1h-1z" fill="#000"/>
<g clip-path="url(#c02)">
<polyline points="41.50,379.50 55.10,379.50 55.60,379.50 55.60,373.50 56.10,367.10 57.80,354.20 59.00,343.70 60.20,332.00 61.07,323.50" fill="none" stroke="#000" stroke-width="1"/>
<polyline points="94.44,323.50 95.10,331.50 96.30,346.00 97.70,358.90 98.90,365.90 99.80,372.80 102.40,375.70 105.30,377.20 108.20,378.60 108.50,379.50 118.50,379.50 118.50,380.50 138.50,380.50 138.50,379.50 143.50,379.50 143.50,378.50 158.50,378.50 158.50,379.50 166.50,379.50 166.50,380.50 176.50,380.50 176.50,381.50 194.50,381.50" fill="none" stroke="#000" stroke-width="1"/>
<polyline points="41.50,378.50 52.50,378.50 53.50,377.50 54.70,374.10 55.90,367.10 57.60,354.20 58.80,343.70 60.00,332.00 60.87,323.50" fill="none" stroke="#f00" stroke-width="1"/>
<polyline points="94.24,323.50 94.90,331.50 96.10,346.00 97.50,358.90 98.70,365.90 99.60,371.80 102.20,374.70 105.10,376.20 108.00,377.60 108.50,377.50 115.50,377.50 115.50,378.50 139.50,378.50 139.50,377.50 143.50,377.50 143.50,376.50 158.50,376.50 158.50,377.50 166.50,377.50 166.50,378.50 176.50,378.50 176.50,379.50 194.50,379.50" fill="none" stroke="#f00" stroke-width="1"/>
</g>
<text transform="translate(42,337) scale(0.8,1)" x="-1.3" font-size="14.4">E</text>
<text transform="translate(58,337) scale(0.95,1)" x="-1.3" font-size="14.4">S</text>
<text transform="translate(108,337) scale(0.8,1)" x="-1.3" font-size="14.4">F</text>
<text transform="translate(169,337) scale(0.8,1)" x="-1.3" font-size="14.4">E</text>
<clipPath id="c12"><rect x="253" y="331" width="163" height="125"/></clipPath>
<rect x="253" y="331" width="163" height="1" fill="#000"/>
<rect x="253" y="455" width="163" height="1" fill="#000"/>
<rect x="253" y="331" width="1" height="125" fill="#000"/>
<rect x="415" y="331" width="1" height="125" fill="#000"/>
<rect x="258" y="454" width="1" height="1" fill="#000"/>
<rect x="258" y="332" width="1" height="1" fill="#000"/>
<rect x="266" y="454" width="1" height="1" fill="#000"/>
<rect x="266" y="332" width="1" height="1" fill="#000"/>
<rect x="274" y="453" width="1" height="2" fill="#000"/>
<rect x="274" y="332" width="1" height="2" fill="#000"/>
<rect x="282" y="454" width="1" height="1" fill="#000"/>
<rect x="282" y="332" width="1" height="1" fill="#000"/>
<rect x="290" y="454" width="1" height="1" fill="#000"/>
<rect x="290" y="332" width="1" height="1" fill="#000"/>
<rect x="299" y="453" width="1" height="2" fill="#000"/>
<rect x="299" y="332" width="1" height="2" fill="#000"/>
<rect x="307" y="454" width="1" height="1" fill="#000"/>
<rect x="307" y="332" width="1" height="1" fill="#000"/>
<rect x="315" y="454" width="1" height="1" fill="#000"/>
<rect x="315" y="332" width="1" height="1" fill="#000"/>
<rect x="323" y="453" width="1" height="2" fill="#000"/>
<rect x="323" y="332" width="1" height="2" fill="#000"/>
<rect x="331" y="454" width="1" height="1" fill="#000"/>
<rect x="331" y="332" width="1" height="1" fill="#000"/>
<rect x="339" y="454" width="1" height="1" fill="#000"/>
<rect x="339" y="332" width="1" height="1" fill="#000"/>
<rect x="347" y="453" width="1" height="2" fill="#000"/>
<rect x="347" y="332" width="1" height="2" fill="#000"/>
<rect x="355" y="454" width="1" height="1" fill="#000"/>
<rect x="355" y="332" width="1" height="1" fill="#000"/>
<rect x="363" y="454" width="1" height="1" fill="#000"/>
<rect x="363" y="332" width="1" height="1" fill="#000"/>
<rect x="371" y="453" width="1" height="2" fill="#000"/>
<rect x="371" y="332" width="1" height="2" fill="#000"/>
<rect x="379" y="454" width="1" height="1" fill="#000"/>
<rect x="379" y="332" width="1" height="1" fill="#000"/>
<rect x="387" y="454" width="1" height="1" fill="#000"/>
<rect x="387" y="332" width="1" height="1" fill="#000"/>
<rect x="395" y="453" width="1" height="2" fill="#000"/>
<rect x="395" y="332" width="1" height="2" fill="#000"/>
<rect x="403" y="454" width="1" height="1" fill="#000"/>
<rect x="403" y="332" width="1" height="1" fill="#000"/>
<rect x="411" y="454" width="1" height="1" fill="#000"/>
<rect x="411" y="332" width="1" height="1" fill="#000"/>
<text class="t" x="274.5" y="465" font-size="7.0" text-anchor="middle" textLength="19" lengthAdjust="spacing" >08:45</text>
<text class="t" x="299.5" y="465" font-size="7.0" text-anchor="middle" textLength="19" lengthAdjust="spacing" >09:00</text>
<text class="t" x="323.5" y="465" font-size="7.0" text-anchor="middle" textLength="19" lengthAdjust="spacing" >09:15</text>
<text class="t" x="347.5" y="465" font-size="7.0" text-anchor="middle" textLength="19" lengthAdjust="spacing" >09:30</text>
<text class="t" x="371.5" y="465" font-size="7.0" text-anchor="middle" textLength="19" lengthAdjust="spacing" >09:45</text>
<text class="t" x="395.5" y="465" font-size="7.0" text-anchor="middle" textLength="19" lengthAdjust="spacing" >10:00</text>
<text class="t" x="276.05" y="473" font-size="7.0" text-anchor="start" textLength="33.8" lengthAdjust="spacing" >Start Time</text>
<text class="t" x="313.55" y="473" font-size="7.0" text-anchor="start" textLength="42.2" lengthAdjust="spacing" >(01-Jun-03</text>
<text class="t" x="359.54999999999995" y="473" font-size="7.0" text-anchor="start" textLength="32.3" lengthAdjust="spacing" >08:32:00)</text>
<text class="t" x="259.0" y="327.5" font-size="7.0" text-anchor="start" textLength="25.6" lengthAdjust="spacing" >Det 8r</text>
<text class="t" x="289.9" y="327.5" font-size="7.0" text-anchor="start" textLength="25.35" lengthAdjust="spacing" >BLACK</text>
<text class="t" x="319.9" y="327.5" font-size="7.0" text-anchor="start" textLength="6.2" lengthAdjust="spacingAndGlyphs" >=</text>
<text class="t" x="330.79999999999995" y="327.5" font-size="7.0" text-anchor="start" textLength="28.5" lengthAdjust="spacing" >Events,</text>
<text class="t" x="363.9" y="327.5" font-size="7.0" text-anchor="start" textLength="16.5" lengthAdjust="spacing" >RED</text>
<text class="t" x="385.0" y="327.5" font-size="7.0" text-anchor="start" textLength="5.5" lengthAdjust="spacingAndGlyphs" >=</text>
<text class="t" x="395.6" y="327.5" font-size="7.0" text-anchor="start" textLength="13.9" lengthAdjust="spacing" >LLD</text>
<text class="t" x="0" y="0" font-size="7.0" text-anchor="middle" textLength="38" lengthAdjust="spacingAndGlyphs" transform="translate(224.8,394.0) rotate(-90)">Counts/sec</text>
<text class="t" x="250.9" y="456" font-size="7.0" text-anchor="end" textLength="3.4" lengthAdjust="spacing" >1</text>
<rect x="254" y="446" width="2" height="1" fill="#000"/>
<rect x="413" y="446" width="2" height="1" fill="#000"/>
<rect x="254" y="440" width="2" height="1" fill="#000"/>
<rect x="413" y="440" width="2" height="1" fill="#000"/>
<rect x="254" y="436" width="2" height="1" fill="#000"/>
<rect x="413" y="436" width="2" height="1" fill="#000"/>
<rect x="254" y="433" width="2" height="1" fill="#000"/>
<rect x="413" y="433" width="2" height="1" fill="#000"/>
<rect x="254" y="431" width="2" height="1" fill="#000"/>
<rect x="413" y="431" width="2" height="1" fill="#000"/>
<rect x="254" y="429" width="2" height="1" fill="#000"/>
<rect x="413" y="429" width="2" height="1" fill="#000"/>
<rect x="254" y="427" width="2" height="1" fill="#000"/>
<rect x="413" y="427" width="2" height="1" fill="#000"/>
<rect x="254" y="425" width="2" height="1" fill="#000"/>
<rect x="413" y="425" width="2" height="1" fill="#000"/>
<text class="t" x="250.9" y="427" font-size="7.0" text-anchor="end" textLength="7.4" lengthAdjust="spacing" >10</text>
<rect x="254" y="424" width="3" height="1" fill="#000"/>
<rect x="412" y="424" width="3" height="1" fill="#000"/>
<rect x="254" y="415" width="2" height="1" fill="#000"/>
<rect x="413" y="415" width="2" height="1" fill="#000"/>
<rect x="254" y="409" width="2" height="1" fill="#000"/>
<rect x="413" y="409" width="2" height="1" fill="#000"/>
<rect x="254" y="405" width="2" height="1" fill="#000"/>
<rect x="413" y="405" width="2" height="1" fill="#000"/>
<rect x="254" y="402" width="2" height="1" fill="#000"/>
<rect x="413" y="402" width="2" height="1" fill="#000"/>
<rect x="254" y="400" width="2" height="1" fill="#000"/>
<rect x="413" y="400" width="2" height="1" fill="#000"/>
<rect x="254" y="398" width="2" height="1" fill="#000"/>
<rect x="413" y="398" width="2" height="1" fill="#000"/>
<rect x="254" y="396" width="2" height="1" fill="#000"/>
<rect x="413" y="396" width="2" height="1" fill="#000"/>
<rect x="254" y="394" width="2" height="1" fill="#000"/>
<rect x="413" y="394" width="2" height="1" fill="#000"/>
<text class="t" x="250.9" y="396" font-size="7.0" text-anchor="end" textLength="11.4" lengthAdjust="spacing" >100</text>
<rect x="254" y="393" width="3" height="1" fill="#000"/>
<rect x="412" y="393" width="3" height="1" fill="#000"/>
<rect x="254" y="384" width="2" height="1" fill="#000"/>
<rect x="413" y="384" width="2" height="1" fill="#000"/>
<rect x="254" y="378" width="2" height="1" fill="#000"/>
<rect x="413" y="378" width="2" height="1" fill="#000"/>
<rect x="254" y="374" width="2" height="1" fill="#000"/>
<rect x="413" y="374" width="2" height="1" fill="#000"/>
<rect x="254" y="371" width="2" height="1" fill="#000"/>
<rect x="413" y="371" width="2" height="1" fill="#000"/>
<rect x="254" y="369" width="2" height="1" fill="#000"/>
<rect x="413" y="369" width="2" height="1" fill="#000"/>
<rect x="254" y="367" width="2" height="1" fill="#000"/>
<rect x="413" y="367" width="2" height="1" fill="#000"/>
<rect x="254" y="365" width="2" height="1" fill="#000"/>
<rect x="413" y="365" width="2" height="1" fill="#000"/>
<rect x="254" y="363" width="2" height="1" fill="#000"/>
<rect x="413" y="363" width="2" height="1" fill="#000"/>
<text class="t" x="250.9" y="365" font-size="7.0" text-anchor="end" textLength="15.4" lengthAdjust="spacing" >1000</text>
<rect x="254" y="362" width="3" height="1" fill="#000"/>
<rect x="412" y="362" width="3" height="1" fill="#000"/>
<rect x="254" y="353" width="2" height="1" fill="#000"/>
<rect x="413" y="353" width="2" height="1" fill="#000"/>
<rect x="254" y="347" width="2" height="1" fill="#000"/>
<rect x="413" y="347" width="2" height="1" fill="#000"/>
<rect x="254" y="343" width="2" height="1" fill="#000"/>
<rect x="413" y="343" width="2" height="1" fill="#000"/>
<rect x="254" y="340" width="2" height="1" fill="#000"/>
<rect x="413" y="340" width="2" height="1" fill="#000"/>
<rect x="254" y="338" width="2" height="1" fill="#000"/>
<rect x="413" y="338" width="2" height="1" fill="#000"/>
<rect x="254" y="336" width="2" height="1" fill="#000"/>
<rect x="413" y="336" width="2" height="1" fill="#000"/>
<rect x="254" y="334" width="2" height="1" fill="#000"/>
<rect x="413" y="334" width="2" height="1" fill="#000"/>
<rect x="254" y="332" width="2" height="1" fill="#000"/>
<rect x="413" y="332" width="2" height="1" fill="#000"/>
<text class="t" x="250.9" y="336" font-size="7.0" text-anchor="end" textLength="19.4" lengthAdjust="spacing" >10000</text>
<path d="M272 335h1v7h-1zM272 349h1v7h-1zM272 363h1v7h-1zM272 377h1v7h-1zM272 391h1v7h-1zM272 405h1v7h-1zM272 419h1v7h-1zM272 433h1v7h-1zM272 447h1v7h-1zM281 332h1v1h-1zM281 336h1v1h-1zM281 340h1v1h-1zM281 344h1v1h-1zM281 348h1v1h-1zM281 352h1v1h-1zM281 356h1v1h-1zM281 360h1v1h-1zM281 364h1v1h-1zM281 368h1v1h-1zM281 372h1v1h-1zM281 376h1v1h-1zM281 380h1v1h-1zM281 384h1v1h-1zM281 388h1v1h-1zM281 392h1v1h-1zM281 396h1v1h-1zM281 400h1v1h-1zM281 404h1v1h-1zM281 408h1v1h-1zM281 412h1v1h-1zM281 416h1v1h-1zM281 420h1v1h-1zM281 424h1v1h-1zM281 428h1v1h-1zM281 432h1v1h-1zM281 436h1v1h-1zM281 440h1v1h-1zM281 444h1v1h-1zM281 448h1v1h-1zM281 452h1v1h-1zM312 334h1v7h-1zM312 348h1v7h-1zM312 362h1v7h-1zM312 376h1v7h-1zM312 390h1v7h-1zM312 404h1v7h-1zM312 418h1v7h-1zM312 432h1v7h-1zM312 446h1v7h-1zM320 332h1v123h-1zM380 332h1v123h-1zM381 333h1v1h-1zM381 337h1v1h-1zM381 341h1v1h-1zM381 345h1v1h-1zM381 349h1v1h-1zM381 353h1v1h-1zM381 357h1v1h-1zM381 361h1v1h-1zM381 365h1v1h-1zM381 369h1v1h-1zM381 373h1v1h-1zM381 377h1v1h-1zM381 381h1v1h-1zM381 385h1v1h-1zM381 389h1v1h-1zM381 393h1v1h-1zM381 397h1v1h-1zM381 401h1v1h-1zM381 405h1v1h-1zM381 409h1v1h-1zM381 413h1v1h-1zM381 417h1v1h-1zM381 421h1v1h-1zM381 425h1v1h-1zM381 429h1v1h-1zM381 433h1v1h-1zM381 437h1v1h-1zM381 441h1v1h-1zM381 445h1v1h-1zM381 449h1v1h-1zM381 453h1v1h-1zM408 334h1v1h-1zM408 338h1v1h-1zM408 342h1v1h-1zM408 346h1v1h-1zM408 350h1v1h-1zM408 354h1v1h-1zM408 358h1v1h-1zM408 362h1v1h-1zM408 366h1v1h-1zM408 370h1v1h-1zM408 374h1v1h-1zM408 378h1v1h-1zM408 382h1v1h-1zM408 386h1v1h-1zM408 390h1v1h-1zM408 394h1v1h-1zM408 398h1v1h-1zM408 402h1v1h-1zM408 406h1v1h-1zM408 410h1v1h-1zM408 414h1v1h-1zM408 418h1v1h-1zM408 422h1v1h-1zM408 426h1v1h-1zM408 430h1v1h-1zM408 434h1v1h-1zM408 438h1v1h-1zM408 442h1v1h-1zM408 446h1v1h-1zM408 450h1v1h-1zM408 454h1v1h-1z" fill="#000"/>
<g clip-path="url(#c12)">
<polyline points="254.50,378.50 268.10,378.50 268.60,378.50 268.60,369.50 269.10,362.50 270.80,349.50 272.00,340.20 272.90,332.00 273.83,323.50" fill="none" stroke="#000" stroke-width="1"/>
<polyline points="308.53,323.50 309.30,331.50 310.70,346.00 311.70,357.70 312.50,365.90 313.60,371.00 317.20,373.40 320.70,376.90 321.50,377.50 342.50,377.50 342.50,378.50 348.50,378.50 348.50,377.50 374.50,377.50 374.50,378.50 388.50,378.50 388.50,379.50 407.50,379.50" fill="none" stroke="#000" stroke-width="1"/>
<polyline points="254.50,377.50 264.50,377.50 265.50,376.50 267.70,369.50 268.90,362.50 270.60,349.50 271.80,340.20 272.70,332.00 273.63,323.50" fill="none" stroke="#f00" stroke-width="1"/>
<polyline points="308.33,323.50 309.10,331.50 310.50,346.00 311.50,357.70 312.30,365.90 313.40,370.00 317.00,372.40 320.50,375.90 321.50,375.50 323.50,375.50 323.50,376.50 343.50,376.50 343.50,377.50 348.50,377.50 348.50,376.50 354.50,376.50 354.50,375.50 375.50,375.50 375.50,376.50 387.50,376.50 387.50,378.50 407.50,378.50" fill="none" stroke="#f00" stroke-width="1"/>
</g>
<text transform="translate(255,337) scale(0.8,1)" x="-1.3" font-size="14.4">E</text>
<text transform="translate(272,337) scale(0.95,1)" x="-1.3" font-size="14.4">S</text>
<text transform="translate(322,337) scale(0.8,1)" x="-1.3" font-size="14.4">F</text>
<text transform="translate(382,337) scale(0.8,1)" x="-1.3" font-size="14.4">E</text>
<clipPath id="c22"><rect x="467" y="331" width="162" height="125"/></clipPath>
<rect x="467" y="331" width="162" height="1" fill="#000"/>
<rect x="467" y="455" width="162" height="1" fill="#000"/>
<rect x="467" y="331" width="1" height="125" fill="#000"/>
<rect x="628" y="331" width="1" height="125" fill="#000"/>
<rect x="472" y="454" width="1" height="1" fill="#000"/>
<rect x="472" y="332" width="1" height="1" fill="#000"/>
<rect x="480" y="454" width="1" height="1" fill="#000"/>
<rect x="480" y="332" width="1" height="1" fill="#000"/>
<rect x="488" y="453" width="1" height="2" fill="#000"/>
<rect x="488" y="332" width="1" height="2" fill="#000"/>
<rect x="496" y="454" width="1" height="1" fill="#000"/>
<rect x="496" y="332" width="1" height="1" fill="#000"/>
<rect x="504" y="454" width="1" height="1" fill="#000"/>
<rect x="504" y="332" width="1" height="1" fill="#000"/>
<rect x="512" y="453" width="1" height="2" fill="#000"/>
<rect x="512" y="332" width="1" height="2" fill="#000"/>
<rect x="520" y="454" width="1" height="1" fill="#000"/>
<rect x="520" y="332" width="1" height="1" fill="#000"/>
<rect x="528" y="454" width="1" height="1" fill="#000"/>
<rect x="528" y="332" width="1" height="1" fill="#000"/>
<rect x="536" y="453" width="1" height="2" fill="#000"/>
<rect x="536" y="332" width="1" height="2" fill="#000"/>
<rect x="544" y="454" width="1" height="1" fill="#000"/>
<rect x="544" y="332" width="1" height="1" fill="#000"/>
<rect x="552" y="454" width="1" height="1" fill="#000"/>
<rect x="552" y="332" width="1" height="1" fill="#000"/>
<rect x="560" y="453" width="1" height="2" fill="#000"/>
<rect x="560" y="332" width="1" height="2" fill="#000"/>
<rect x="568" y="454" width="1" height="1" fill="#000"/>
<rect x="568" y="332" width="1" height="1" fill="#000"/>
<rect x="577" y="454" width="1" height="1" fill="#000"/>
<rect x="577" y="332" width="1" height="1" fill="#000"/>
<rect x="585" y="453" width="1" height="2" fill="#000"/>
<rect x="585" y="332" width="1" height="2" fill="#000"/>
<rect x="593" y="454" width="1" height="1" fill="#000"/>
<rect x="593" y="332" width="1" height="1" fill="#000"/>
<rect x="601" y="454" width="1" height="1" fill="#000"/>
<rect x="601" y="332" width="1" height="1" fill="#000"/>
<rect x="609" y="453" width="1" height="2" fill="#000"/>
<rect x="609" y="332" width="1" height="2" fill="#000"/>
<rect x="617" y="454" width="1" height="1" fill="#000"/>
<rect x="617" y="332" width="1" height="1" fill="#000"/>
<rect x="625" y="454" width="1" height="1" fill="#000"/>
<rect x="625" y="332" width="1" height="1" fill="#000"/>
<text class="t" x="488.5" y="465" font-size="7.0" text-anchor="middle" textLength="19" lengthAdjust="spacing" >08:45</text>
<text class="t" x="512.5" y="465" font-size="7.0" text-anchor="middle" textLength="19" lengthAdjust="spacing" >09:00</text>
<text class="t" x="536.5" y="465" font-size="7.0" text-anchor="middle" textLength="19" lengthAdjust="spacing" >09:15</text>
<text class="t" x="560.5" y="465" font-size="7.0" text-anchor="middle" textLength="19" lengthAdjust="spacing" >09:30</text>
<text class="t" x="585.5" y="465" font-size="7.0" text-anchor="middle" textLength="19" lengthAdjust="spacing" >09:45</text>
<text class="t" x="609.5" y="465" font-size="7.0" text-anchor="middle" textLength="19" lengthAdjust="spacing" >10:00</text>
<text class="t" x="489.6" y="473" font-size="7.0" text-anchor="start" textLength="33.8" lengthAdjust="spacing" >Start Time</text>
<text class="t" x="527.1" y="473" font-size="7.0" text-anchor="start" textLength="42.2" lengthAdjust="spacing" >(01-Jun-03</text>
<text class="t" x="573.1" y="473" font-size="7.0" text-anchor="start" textLength="32.3" lengthAdjust="spacing" >08:32:00)</text>
<text class="t" x="472.55" y="327.5" font-size="7.0" text-anchor="start" textLength="25.6" lengthAdjust="spacing" >Det 9r</text>
<text class="t" x="503.45" y="327.5" font-size="7.0" text-anchor="start" textLength="25.35" lengthAdjust="spacing" >BLACK</text>
<text class="t" x="533.45" y="327.5" font-size="7.0" text-anchor="start" textLength="6.2" lengthAdjust="spacingAndGlyphs" >=</text>
<text class="t" x="544.35" y="327.5" font-size="7.0" text-anchor="start" textLength="28.5" lengthAdjust="spacing" >Events,</text>
<text class="t" x="577.45" y="327.5" font-size="7.0" text-anchor="start" textLength="16.5" lengthAdjust="spacing" >RED</text>
<text class="t" x="598.55" y="327.5" font-size="7.0" text-anchor="start" textLength="5.5" lengthAdjust="spacingAndGlyphs" >=</text>
<text class="t" x="609.15" y="327.5" font-size="7.0" text-anchor="start" textLength="13.9" lengthAdjust="spacing" >LLD</text>
<text class="t" x="0" y="0" font-size="7.0" text-anchor="middle" textLength="38" lengthAdjust="spacingAndGlyphs" transform="translate(438.8,394.0) rotate(-90)">Counts/sec</text>
<text class="t" x="464.9" y="456" font-size="7.0" text-anchor="end" textLength="3.4" lengthAdjust="spacing" >1</text>
<rect x="468" y="446" width="2" height="1" fill="#000"/>
<rect x="626" y="446" width="2" height="1" fill="#000"/>
<rect x="468" y="440" width="2" height="1" fill="#000"/>
<rect x="626" y="440" width="2" height="1" fill="#000"/>
<rect x="468" y="436" width="2" height="1" fill="#000"/>
<rect x="626" y="436" width="2" height="1" fill="#000"/>
<rect x="468" y="433" width="2" height="1" fill="#000"/>
<rect x="626" y="433" width="2" height="1" fill="#000"/>
<rect x="468" y="431" width="2" height="1" fill="#000"/>
<rect x="626" y="431" width="2" height="1" fill="#000"/>
<rect x="468" y="429" width="2" height="1" fill="#000"/>
<rect x="626" y="429" width="2" height="1" fill="#000"/>
<rect x="468" y="427" width="2" height="1" fill="#000"/>
<rect x="626" y="427" width="2" height="1" fill="#000"/>
<rect x="468" y="425" width="2" height="1" fill="#000"/>
<rect x="626" y="425" width="2" height="1" fill="#000"/>
<text class="t" x="464.9" y="427" font-size="7.0" text-anchor="end" textLength="7.4" lengthAdjust="spacing" >10</text>
<rect x="468" y="424" width="3" height="1" fill="#000"/>
<rect x="625" y="424" width="3" height="1" fill="#000"/>
<rect x="468" y="415" width="2" height="1" fill="#000"/>
<rect x="626" y="415" width="2" height="1" fill="#000"/>
<rect x="468" y="409" width="2" height="1" fill="#000"/>
<rect x="626" y="409" width="2" height="1" fill="#000"/>
<rect x="468" y="405" width="2" height="1" fill="#000"/>
<rect x="626" y="405" width="2" height="1" fill="#000"/>
<rect x="468" y="402" width="2" height="1" fill="#000"/>
<rect x="626" y="402" width="2" height="1" fill="#000"/>
<rect x="468" y="400" width="2" height="1" fill="#000"/>
<rect x="626" y="400" width="2" height="1" fill="#000"/>
<rect x="468" y="398" width="2" height="1" fill="#000"/>
<rect x="626" y="398" width="2" height="1" fill="#000"/>
<rect x="468" y="396" width="2" height="1" fill="#000"/>
<rect x="626" y="396" width="2" height="1" fill="#000"/>
<rect x="468" y="394" width="2" height="1" fill="#000"/>
<rect x="626" y="394" width="2" height="1" fill="#000"/>
<text class="t" x="464.9" y="396" font-size="7.0" text-anchor="end" textLength="11.4" lengthAdjust="spacing" >100</text>
<rect x="468" y="393" width="3" height="1" fill="#000"/>
<rect x="625" y="393" width="3" height="1" fill="#000"/>
<rect x="468" y="384" width="2" height="1" fill="#000"/>
<rect x="626" y="384" width="2" height="1" fill="#000"/>
<rect x="468" y="378" width="2" height="1" fill="#000"/>
<rect x="626" y="378" width="2" height="1" fill="#000"/>
<rect x="468" y="374" width="2" height="1" fill="#000"/>
<rect x="626" y="374" width="2" height="1" fill="#000"/>
<rect x="468" y="371" width="2" height="1" fill="#000"/>
<rect x="626" y="371" width="2" height="1" fill="#000"/>
<rect x="468" y="369" width="2" height="1" fill="#000"/>
<rect x="626" y="369" width="2" height="1" fill="#000"/>
<rect x="468" y="367" width="2" height="1" fill="#000"/>
<rect x="626" y="367" width="2" height="1" fill="#000"/>
<rect x="468" y="365" width="2" height="1" fill="#000"/>
<rect x="626" y="365" width="2" height="1" fill="#000"/>
<rect x="468" y="363" width="2" height="1" fill="#000"/>
<rect x="626" y="363" width="2" height="1" fill="#000"/>
<text class="t" x="464.9" y="365" font-size="7.0" text-anchor="end" textLength="15.4" lengthAdjust="spacing" >1000</text>
<rect x="468" y="362" width="3" height="1" fill="#000"/>
<rect x="625" y="362" width="3" height="1" fill="#000"/>
<rect x="468" y="353" width="2" height="1" fill="#000"/>
<rect x="626" y="353" width="2" height="1" fill="#000"/>
<rect x="468" y="347" width="2" height="1" fill="#000"/>
<rect x="626" y="347" width="2" height="1" fill="#000"/>
<rect x="468" y="343" width="2" height="1" fill="#000"/>
<rect x="626" y="343" width="2" height="1" fill="#000"/>
<rect x="468" y="340" width="2" height="1" fill="#000"/>
<rect x="626" y="340" width="2" height="1" fill="#000"/>
<rect x="468" y="338" width="2" height="1" fill="#000"/>
<rect x="626" y="338" width="2" height="1" fill="#000"/>
<rect x="468" y="336" width="2" height="1" fill="#000"/>
<rect x="626" y="336" width="2" height="1" fill="#000"/>
<rect x="468" y="334" width="2" height="1" fill="#000"/>
<rect x="626" y="334" width="2" height="1" fill="#000"/>
<rect x="468" y="332" width="2" height="1" fill="#000"/>
<rect x="626" y="332" width="2" height="1" fill="#000"/>
<text class="t" x="464.9" y="336" font-size="7.0" text-anchor="end" textLength="19.4" lengthAdjust="spacing" >10000</text>
<path d="M485 333h1v7h-1zM485 347h1v7h-1zM485 361h1v7h-1zM485 375h1v7h-1zM485 389h1v7h-1zM485 403h1v7h-1zM485 417h1v7h-1zM485 431h1v7h-1zM485 445h1v7h-1zM495 332h1v1h-1zM495 336h1v1h-1zM495 340h1v1h-1zM495 344h1v1h-1zM495 348h1v1h-1zM495 352h1v1h-1zM495 356h1v1h-1zM495 360h1v1h-1zM495 364h1v1h-1zM495 368h1v1h-1zM495 372h1v1h-1zM495 376h1v1h-1zM495 380h1v1h-1zM495 384h1v1h-1zM495 388h1v1h-1zM495 392h1v1h-1zM495 396h1v1h-1zM495 400h1v1h-1zM495 404h1v1h-1zM495 408h1v1h-1zM495 412h1v1h-1zM495 416h1v1h-1zM495 420h1v1h-1zM495 424h1v1h-1zM495 428h1v1h-1zM495 432h1v1h-1zM495 436h1v1h-1zM495 440h1v1h-1zM495 444h1v1h-1zM495 448h1v1h-1zM495 452h1v1h-1zM525 332h1v7h-1zM525 346h1v7h-1zM525 360h1v7h-1zM525 374h1v7h-1zM525 388h1v7h-1zM525 402h1v7h-1zM525 416h1v7h-1zM525 430h1v7h-1zM525 444h1v7h-1zM534 332h1v123h-1zM593 332h1v123h-1zM594 333h1v1h-1zM594 337h1v1h-1zM594 341h1v1h-1zM594 345h1v1h-1zM594 349h1v1h-1zM594 353h1v1h-1zM594 357h1v1h-1zM594 361h1v1h-1zM594 365h1v1h-1zM594 369h1v1h-1zM594 373h1v1h-1zM594 377h1v1h-1zM594 381h1v1h-1zM594 385h1v1h-1zM594 389h1v1h-1zM594 393h1v1h-1zM594 397h1v1h-1zM594 401h1v1h-1zM594 405h1v1h-1zM594 409h1v1h-1zM594 413h1v1h-1zM594 417h1v1h-1zM594 421h1v1h-1zM594 425h1v1h-1zM594 429h1v1h-1zM594 433h1v1h-1zM594 437h1v1h-1zM594 441h1v1h-1zM594 445h1v1h-1zM594 449h1v1h-1zM594 453h1v1h-1zM621 334h1v1h-1zM621 338h1v1h-1zM621 342h1v1h-1zM621 346h1v1h-1zM621 350h1v1h-1zM621 354h1v1h-1zM621 358h1v1h-1zM621 362h1v1h-1zM621 366h1v1h-1zM621 370h1v1h-1zM621 374h1v1h-1zM621 378h1v1h-1zM621 382h1v1h-1zM621 386h1v1h-1zM621 390h1v1h-1zM621 394h1v1h-1zM621 398h1v1h-1zM621 402h1v1h-1zM621 406h1v1h-1zM621 410h1v1h-1zM621 414h1v1h-1zM621 418h1v1h-1zM621 422h1v1h-1zM621 426h1v1h-1zM621 430h1v1h-1zM621 434h1v1h-1zM621 438h1v1h-1zM621 442h1v1h-1zM621 446h1v1h-1zM621 450h1v1h-1zM621 454h1v1h-1z" fill="#000"/>
<g clip-path="url(#c22)">
<polyline points="468.50,378.50 481.20,378.50 481.70,378.50 481.70,373.50 482.10,365.90 483.60,351.90 484.80,340.20 486.00,332.00 487.24,323.50" fill="none" stroke="#000" stroke-width="1"/>
<polyline points="522.39,323.50 523.00,331.50 524.10,346.00 525.00,357.70 525.70,365.90 526.80,372.20 529.40,373.40 532.90,376.30 535.20,377.50 535.50,376.50 545.50,376.50 545.50,377.50 565.50,377.50 565.50,376.50 593.50,376.50 593.50,377.50 600.50,377.50 600.50,379.50 621.50,379.50" fill="none" stroke="#000" stroke-width="1"/>
<polyline points="468.50,377.50 478.50,377.50 479.50,377.00 481.10,373.50 481.90,365.90 483.40,351.90 484.60,340.20 485.80,332.00 487.04,323.50" fill="none" stroke="#f00" stroke-width="1"/>
<polyline points="522.19,323.50 522.80,331.50 523.90,346.00 524.80,357.70 525.50,365.90 526.60,371.20 529.20,372.40 532.70,375.30 535.00,376.50 535.50,375.50 551.50,375.50 551.50,376.50 562.50,376.50 562.50,375.50 593.50,375.50 593.50,376.50 601.50,376.50 601.50,378.50 621.50,378.50" fill="none" stroke="#f00" stroke-width="1"/>
</g>
<text transform="translate(468,337) scale(0.8,1)" x="-1.3" font-size="14.4">E</text>
<text transform="translate(485,337) scale(0.95,1)" x="-1.3" font-size="14.4">S</text>
<text transform="translate(535,337) scale(0.8,1)" x="-1.3" font-size="14.4">F</text>
<text transform="translate(596,337) scale(0.8,1)" x="-1.3" font-size="14.4">E</text>
</svg></body></html>
